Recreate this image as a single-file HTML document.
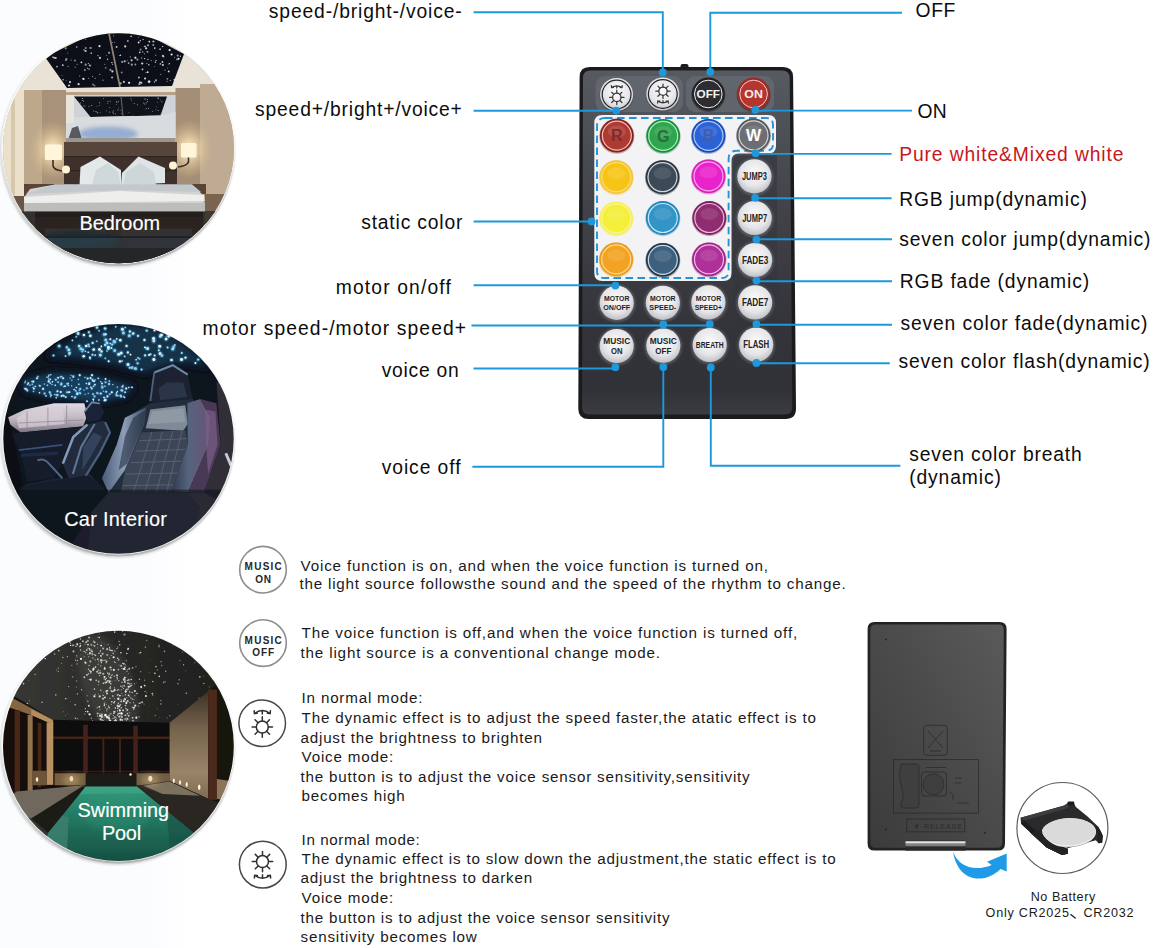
<!DOCTYPE html>
<html>
<head>
<meta charset="utf-8">
<title>Remote control guide</title>
<style>
html,body{margin:0;padding:0;background:#fff;}
body{width:1153px;height:948px;position:relative;overflow:hidden;font-family:"Liberation Sans",sans-serif;color:#111;}
#art{position:absolute;left:0;top:0;width:1153px;height:948px;}
.t{position:absolute;white-space:nowrap;line-height:1;color:#0c0c0c;}
.lab{font-size:18px;letter-spacing:1.1px;}
.red{color:#c8161d;}
.desc{font-size:15.5px;letter-spacing:0.7px;color:#1a1a1a;}
.cap{font-size:19px;color:#fff;letter-spacing:0.2px;-webkit-text-stroke:0.15px #fff;}
.sm{font-size:13px;letter-spacing:0.4px;color:#1a1a1a;}
svg text{font-family:"Liberation Sans",sans-serif;}
</style>
</head>
<body>
<svg id="art" width="1153" height="948" viewBox="0 0 1153 948">
<defs>
  <clipPath id="cB"><ellipse cx="118.45" cy="148.3" rx="115.5" ry="115"/></clipPath>
  <clipPath id="cC"><ellipse cx="118.5" cy="438.8" rx="115.2" ry="114.9"/></clipPath>
  <clipPath id="cP"><ellipse cx="118.4" cy="745.8" rx="115.4" ry="115.1"/></clipPath>
  <radialGradient id="glow" cx="0.5" cy="0.5" r="0.5">
    <stop offset="0" stop-color="#fff6dc" stop-opacity="1"/>
    <stop offset="0.35" stop-color="#f3dcae" stop-opacity="0.75"/>
    <stop offset="1" stop-color="#d8b888" stop-opacity="0"/>
  </radialGradient>
  <linearGradient id="tintG" x1="0" y1="0" x2="1" y2="0"><stop offset="0" stop-color="#fafcfe"/><stop offset="0.8" stop-color="#fbfcfe"/><stop offset="1" stop-color="#ffffff"/></linearGradient>
  <linearGradient id="ringG" x1="0" y1="0" x2="0" y2="1">
    <stop offset="0" stop-color="#ffffff"/>
    <stop offset="0.45" stop-color="#f3f3f3"/>
    <stop offset="0.8" stop-color="#cfcfcf"/>
    <stop offset="1" stop-color="#b4b4b4"/>
  </linearGradient>
  <filter id="b1" x="-20%" y="-20%" width="140%" height="140%"><feGaussianBlur stdDeviation="1"/></filter>
  <filter id="b2" x="-20%" y="-20%" width="140%" height="140%"><feGaussianBlur stdDeviation="2"/></filter>
  <filter id="b3" x="-30%" y="-30%" width="160%" height="160%"><feGaussianBlur stdDeviation="3.5"/></filter>
  <filter id="bz" x="-30%" y="-30%" width="160%" height="160%"><feGaussianBlur stdDeviation="16"/></filter>
  <filter id="bs" x="-5%" y="-5%" width="110%" height="110%"><feGaussianBlur stdDeviation="1.6"/></filter>
  <filter id="b05" x="-20%" y="-20%" width="140%" height="140%"><feGaussianBlur stdDeviation="0.5"/></filter>
</defs>
<rect x="0" y="0" width="190" height="948" fill="url(#tintG)"/>
<!-- ============ BEDROOM ============ -->
<g id="bedroom">
  <ellipse cx="117.4" cy="150.4" rx="117.2" ry="116.8" fill="#a3a3a3" opacity="0.5" filter="url(#b1)"/>
  <ellipse cx="118.3" cy="148.9" rx="117.4" ry="117" fill="url(#ringG)"/>
  <ellipse cx="118.45" cy="148.3" rx="116.2" ry="115.7" fill="#fbfbfb"/>
  <g clip-path="url(#cB)">
    <rect x="0" y="30" width="240" height="240" fill="#b7a288"/>
    <!-- ceiling -->
    <polygon points="0,30 240,30 240,80 200,88 176,92 66,92 20,96 0,100" fill="#e9e3d7"/>
    <polygon points="45,57 82,39 110,31 148,35 184,54 172,86 67,88" fill="#0c0f17"/>
    <line x1="108.5" y1="31" x2="120" y2="87" stroke="#8d8372" stroke-width="1.8"/>
    <!-- left curtain / wall -->
    <rect x="0" y="90" width="24" height="110" fill="#ebe1cb"/>
    <rect x="11" y="90" width="4" height="110" fill="#d6c8ac"/>
    <rect x="24" y="90" width="18" height="100" fill="#bda88c"/>
    <rect x="42" y="90" width="24" height="100" fill="#a8927a"/>
    <!-- right wall -->
    <rect x="175.5" y="88" width="25" height="100" fill="#a48e76"/>
    <rect x="200" y="84" width="40" height="110" fill="#bfab94"/>
    <!-- lamp glows -->
    <ellipse cx="53" cy="150" rx="24" ry="30" fill="url(#glow)"/>
    <ellipse cx="189" cy="149" rx="24" ry="30" fill="url(#glow)"/>
    <!-- mirror -->
    <rect x="66" y="95" width="109.5" height="47" fill="#cfd2d6"/>
    <polygon points="74,96.5 167,96.5 160.5,115.5 90.5,117" fill="#10131a"/>
    <line x1="121" y1="96.5" x2="123" y2="116" stroke="#6d6a64" stroke-width="1"/>
    <polygon points="66,117 90.5,117 160.5,115.5 175.5,112 175.5,142 66,142" fill="#d9dcdf"/>
    <ellipse cx="108" cy="134" rx="30" ry="7.5" fill="#7f9fcc" opacity="0.75" filter="url(#b2)"/>
    <polygon points="68,140 72,128 78,126 82,140" fill="#3b3a40" opacity="0.8"/>
    <rect x="66" y="138" width="109.5" height="4" fill="#9a958f"/>
    <rect x="66" y="95" width="8" height="28" fill="#e9e5dc"/>
    <!-- headboard -->
    <rect x="64" y="142" width="113" height="44" fill="#3f302b"/>
    <rect x="64" y="142" width="113" height="14" fill="#57443b"/>
    <rect x="64" y="156" width="113" height="1.2" fill="#2f2420"/>
    <rect x="64" y="170" width="113" height="1.2" fill="#2f2420"/>
    <!-- lamps -->
    <rect x="45" y="144.5" width="17" height="15.5" rx="1.5" fill="#fff5da"/>
    <rect x="181" y="143" width="15.5" height="14.5" rx="1.5" fill="#fff5da"/>
    <path d="M53 160 L53 166 Q54 170 62 171" stroke="#3a2c26" stroke-width="1.6" fill="none"/>
    <path d="M188.5 157.5 L188.5 162 Q187 166 178 167" stroke="#3a2c26" stroke-width="1.6" fill="none"/>
    <circle cx="66" cy="169.5" r="4" fill="#fff3d6" filter="url(#b05)"/>
    <circle cx="173" cy="165.5" r="4" fill="#fff3d6" filter="url(#b05)"/>
    <!-- night stands -->
    <rect x="24" y="184" width="42" height="12" fill="#5a4438"/>
    <rect x="176" y="184" width="30" height="10" fill="#5a4438"/>
    <!-- pillows -->
    <polygon points="79.5,185 80.5,167 100,156.5 121,170 121,185" fill="#e3e8e8"/>
    <polygon points="121,185 122,173 138.5,156.5 165,168 165,183" fill="#dfe5e6"/>
    <polygon points="92,185 96,170 108,163 118,172 121,185" fill="#cfd8da"/>
    <polygon points="123,185 126,172 140,163 154,172 156,185" fill="#cdd6d9"/>
    <!-- bed -->
    <polygon points="23,199 30,189 55,184.5 192,184.5 203,195 204.5,212 24.5,212" fill="#d2d2d0"/>
    <polygon points="26,194 55,184.5 192,184.5 201,192 120,190" fill="#c3c8cc"/>
    <polygon points="24,197 120,191 204,195 204.5,201 24.5,203" fill="#eeeeec"/>
    <rect x="24" y="203" width="181" height="9" fill="#bdbdbb"/>
    <!-- floor -->
    <rect x="0" y="212" width="240" height="60" fill="#5c5751"/>
    <rect x="35" y="212" width="168" height="16.5" fill="#49382f"/>
    <rect x="35" y="212" width="168" height="5" fill="#3a2c25"/>
    <rect x="106" y="228" width="15" height="20" fill="#5c483c"/>
    <rect x="36" y="228" width="9" height="8" fill="#4b3a31"/>
    <rect x="192" y="228" width="9" height="8" fill="#4b3a31"/>
    <rect x="0" y="236" width="240" height="40" fill="#30343a"/>
    <ellipse cx="78" cy="240" rx="40" ry="9" fill="#27414c" opacity="0.7" filter="url(#b2)"/>
    <rect x="0" y="248" width="240" height="30" fill="#242628"/>
    <rect x="0" y="196" width="24" height="50" fill="#6b5646"/>
    <rect x="205" y="194" width="40" height="30" fill="#7a6450"/>
    <g id="bstars"><circle cx="81.4" cy="62.3" r="0.9" fill="#e6eeff" opacity="0.96"/><circle cx="112.6" cy="64.2" r="0.5" fill="#e6eeff" opacity="0.95"/><circle cx="111.9" cy="62.6" r="0.7" fill="#e6eeff" opacity="1.00"/><circle cx="112.1" cy="77.5" r="1.1" fill="#e6eeff" opacity="0.70"/><circle cx="70.0" cy="82.1" r="1.1" fill="#e6eeff" opacity="0.87"/><circle cx="138.6" cy="37.3" r="0.5" fill="#e6eeff" opacity="0.65"/><circle cx="112.4" cy="71.4" r="1.1" fill="#e6eeff" opacity="0.86"/><circle cx="171.6" cy="54.5" r="1.1" fill="#e6eeff" opacity="0.98"/><circle cx="67.7" cy="53.0" r="0.5" fill="#e6eeff" opacity="0.57"/><circle cx="78.6" cy="84.2" r="1.1" fill="#e6eeff" opacity="0.89"/><circle cx="162.9" cy="55.9" r="1.1" fill="#e6eeff" opacity="0.79"/><circle cx="120.5" cy="55.2" r="0.7" fill="#e6eeff" opacity="0.95"/><circle cx="140.0" cy="82.3" r="0.9" fill="#e6eeff" opacity="1.00"/><circle cx="138.6" cy="42.5" r="0.9" fill="#e6eeff" opacity="0.98"/><circle cx="169.4" cy="63.6" r="0.7" fill="#e6eeff" opacity="0.82"/><circle cx="66.4" cy="59.1" r="1.1" fill="#e6eeff" opacity="0.54"/><circle cx="155.7" cy="55.3" r="0.7" fill="#e6eeff" opacity="0.51"/><circle cx="106.4" cy="55.6" r="0.5" fill="#e6eeff" opacity="0.52"/><circle cx="131.1" cy="36.3" r="0.9" fill="#e6eeff" opacity="0.78"/><circle cx="120.7" cy="83.3" r="1.1" fill="#e6eeff" opacity="0.65"/><circle cx="84.8" cy="69.9" r="0.9" fill="#e6eeff" opacity="0.66"/><circle cx="99.9" cy="57.9" r="1.1" fill="#e6eeff" opacity="0.82"/><circle cx="128.6" cy="63.1" r="0.9" fill="#e6eeff" opacity="0.72"/><circle cx="145.1" cy="46.4" r="0.9" fill="#e6eeff" opacity="0.72"/><circle cx="84.1" cy="49.8" r="0.9" fill="#e6eeff" opacity="0.51"/><circle cx="104.8" cy="64.2" r="0.5" fill="#e6eeff" opacity="0.69"/><circle cx="127.8" cy="40.9" r="0.9" fill="#e6eeff" opacity="0.73"/><circle cx="139.7" cy="52.3" r="0.9" fill="#e6eeff" opacity="0.87"/><circle cx="139.2" cy="84.1" r="0.9" fill="#e6eeff" opacity="0.81"/><circle cx="89.4" cy="65.3" r="0.7" fill="#e6eeff" opacity="0.68"/><circle cx="91.3" cy="53.2" r="0.9" fill="#e6eeff" opacity="0.65"/><circle cx="99.8" cy="74.2" r="0.5" fill="#e6eeff" opacity="0.99"/><circle cx="140.3" cy="40.8" r="0.7" fill="#e6eeff" opacity="0.83"/><circle cx="85.6" cy="51.0" r="1.1" fill="#e6eeff" opacity="0.82"/><circle cx="62.8" cy="65.2" r="0.9" fill="#e6eeff" opacity="0.84"/><circle cx="79.6" cy="76.1" r="0.7" fill="#e6eeff" opacity="0.54"/><circle cx="148.0" cy="45.3" r="1.1" fill="#e6eeff" opacity="0.64"/><circle cx="160.4" cy="63.9" r="0.9" fill="#e6eeff" opacity="0.67"/><circle cx="131.8" cy="64.7" r="1.1" fill="#e6eeff" opacity="0.65"/><circle cx="154.8" cy="48.1" r="0.9" fill="#e6eeff" opacity="0.82"/><circle cx="88.3" cy="63.6" r="0.5" fill="#e6eeff" opacity="0.96"/><circle cx="174.5" cy="79.8" r="1.1" fill="#e6eeff" opacity="0.78"/><circle cx="54.3" cy="57.7" r="0.9" fill="#e6eeff" opacity="0.77"/><circle cx="167.4" cy="78.8" r="0.9" fill="#e6eeff" opacity="0.56"/><circle cx="156.0" cy="60.6" r="0.7" fill="#e6eeff" opacity="0.95"/><circle cx="168.8" cy="64.0" r="0.5" fill="#e6eeff" opacity="0.74"/><circle cx="65.9" cy="60.2" r="0.7" fill="#e6eeff" opacity="0.83"/><circle cx="119.3" cy="55.5" r="0.5" fill="#e6eeff" opacity="0.67"/><circle cx="83.3" cy="78.8" r="1.1" fill="#e6eeff" opacity="0.91"/><circle cx="66.1" cy="80.2" r="0.5" fill="#e6eeff" opacity="0.59"/><circle cx="154.5" cy="81.9" r="0.7" fill="#e6eeff" opacity="0.91"/><circle cx="85.8" cy="48.0" r="1.1" fill="#e6eeff" opacity="0.53"/><circle cx="92.7" cy="76.6" r="0.5" fill="#e6eeff" opacity="0.89"/><circle cx="113.7" cy="35.7" r="0.5" fill="#e6eeff" opacity="0.76"/><circle cx="114.7" cy="42.2" r="0.5" fill="#e6eeff" opacity="0.68"/><circle cx="135.4" cy="64.5" r="0.9" fill="#e6eeff" opacity="0.63"/><circle cx="180.4" cy="56.3" r="0.7" fill="#e6eeff" opacity="0.78"/><circle cx="144.5" cy="53.8" r="0.5" fill="#e6eeff" opacity="0.78"/><circle cx="55.7" cy="58.0" r="1.1" fill="#e6eeff" opacity="0.82"/><circle cx="57.0" cy="66.6" r="0.9" fill="#e6eeff" opacity="0.71"/><circle cx="141.6" cy="58.0" r="0.7" fill="#e6eeff" opacity="0.61"/><circle cx="85.7" cy="64.7" r="1.1" fill="#e6eeff" opacity="0.61"/><circle cx="93.0" cy="84.4" r="0.9" fill="#e6eeff" opacity="0.56"/><circle cx="141.2" cy="82.8" r="1.1" fill="#e6eeff" opacity="0.83"/><circle cx="146.9" cy="63.3" r="0.5" fill="#e6eeff" opacity="0.91"/><circle cx="144.6" cy="58.6" r="0.7" fill="#e6eeff" opacity="0.89"/><circle cx="63.1" cy="79.8" r="0.7" fill="#e6eeff" opacity="0.91"/><circle cx="95.1" cy="78.3" r="0.5" fill="#e6eeff" opacity="0.92"/><circle cx="138.9" cy="77.5" r="0.9" fill="#e6eeff" opacity="0.79"/><circle cx="151.3" cy="60.6" r="0.7" fill="#e6eeff" opacity="0.55"/><circle cx="148.9" cy="82.6" r="0.5" fill="#e6eeff" opacity="0.78"/><circle cx="135.3" cy="57.6" r="1.1" fill="#e6eeff" opacity="0.63"/><circle cx="129.1" cy="82.8" r="1.1" fill="#e6eeff" opacity="0.98"/><circle cx="99.5" cy="46.2" r="1.1" fill="#e6eeff" opacity="0.92"/><circle cx="177.7" cy="55.6" r="1.1" fill="#e6eeff" opacity="0.58"/><circle cx="102.9" cy="80.2" r="0.7" fill="#e6eeff" opacity="0.55"/><circle cx="148.8" cy="81.7" r="1.1" fill="#e6eeff" opacity="0.79"/><circle cx="149.3" cy="41.6" r="0.9" fill="#e6eeff" opacity="0.97"/><circle cx="162.4" cy="62.0" r="0.9" fill="#e6eeff" opacity="0.84"/><circle cx="162.9" cy="65.0" r="0.9" fill="#e6eeff" opacity="0.94"/><circle cx="90.6" cy="47.9" r="1.1" fill="#e6eeff" opacity="0.60"/><circle cx="125.2" cy="46.4" r="1.1" fill="#e6eeff" opacity="0.89"/><circle cx="69.0" cy="85.5" r="1.1" fill="#e6eeff" opacity="0.85"/><circle cx="77.2" cy="64.2" r="0.5" fill="#e6eeff" opacity="0.74"/><circle cx="145.1" cy="78.5" r="1.1" fill="#e6eeff" opacity="0.89"/><circle cx="170.2" cy="80.3" r="0.5" fill="#e6eeff" opacity="0.98"/><circle cx="162.7" cy="46.6" r="0.7" fill="#e6eeff" opacity="0.89"/><circle cx="68.1" cy="66.3" r="0.5" fill="#e6eeff" opacity="0.95"/><circle cx="83.7" cy="79.0" r="0.9" fill="#e6eeff" opacity="0.59"/><circle cx="62.0" cy="75.5" r="0.5" fill="#e6eeff" opacity="0.55"/><circle cx="160.1" cy="49.2" r="0.9" fill="#e6eeff" opacity="0.73"/><circle cx="146.9" cy="51.5" r="0.5" fill="#e6eeff" opacity="0.67"/><circle cx="107.6" cy="59.3" r="0.7" fill="#e6eeff" opacity="0.82"/><circle cx="148.0" cy="59.5" r="0.7" fill="#e6eeff" opacity="0.77"/><circle cx="65.7" cy="48.3" r="1.1" fill="#e6eeff" opacity="0.56"/><circle cx="167.1" cy="81.3" r="0.5" fill="#e6eeff" opacity="0.76"/><circle cx="142.5" cy="69.3" r="0.9" fill="#e6eeff" opacity="0.88"/><circle cx="89.0" cy="69.1" r="0.9" fill="#e6eeff" opacity="0.55"/><circle cx="124.7" cy="61.3" r="1.1" fill="#e6eeff" opacity="0.75"/><circle cx="146.1" cy="72.6" r="0.7" fill="#e6eeff" opacity="0.59"/><circle cx="167.5" cy="68.1" r="0.5" fill="#e6eeff" opacity="0.55"/><circle cx="123.9" cy="81.9" r="1.1" fill="#e6eeff" opacity="0.78"/><circle cx="135.5" cy="57.8" r="0.9" fill="#e6eeff" opacity="0.89"/><circle cx="143.1" cy="39.6" r="0.7" fill="#e6eeff" opacity="0.88"/><circle cx="121.7" cy="72.5" r="0.9" fill="#e6eeff" opacity="0.55"/><circle cx="85.8" cy="36.8" r="0.7" fill="#e6eeff" opacity="0.52"/><circle cx="116.6" cy="46.9" r="0.9" fill="#e6eeff" opacity="0.94"/><circle cx="174.7" cy="57.3" r="0.5" fill="#e6eeff" opacity="0.68"/><circle cx="85.7" cy="39.2" r="0.5" fill="#e6eeff" opacity="0.78"/><circle cx="142.2" cy="63.5" r="1.1" fill="#e6eeff" opacity="0.91"/><circle cx="148.8" cy="64.8" r="0.7" fill="#e6eeff" opacity="0.93"/><circle cx="155.4" cy="62.3" r="0.7" fill="#e6eeff" opacity="0.78"/><circle cx="76.7" cy="47.0" r="0.9" fill="#e6eeff" opacity="0.52"/><circle cx="156.0" cy="80.3" r="1.1" fill="#e6eeff" opacity="0.66"/><circle cx="169.6" cy="50.1" r="1.1" fill="#e6eeff" opacity="0.99"/><circle cx="140.6" cy="49.6" r="1.1" fill="#e6eeff" opacity="0.52"/><circle cx="75.1" cy="67.0" r="0.5" fill="#e6eeff" opacity="0.89"/><circle cx="137.4" cy="59.6" r="1.1" fill="#e6eeff" opacity="0.60"/><circle cx="153.2" cy="45.0" r="1.1" fill="#e6eeff" opacity="0.56"/><circle cx="87.4" cy="68.2" r="0.7" fill="#e6eeff" opacity="0.57"/><circle cx="154.6" cy="66.4" r="0.5" fill="#e6eeff" opacity="0.51"/><circle cx="131.6" cy="60.3" r="1.1" fill="#e6eeff" opacity="0.77"/><circle cx="164.9" cy="70.1" r="0.7" fill="#e6eeff" opacity="0.54"/><circle cx="160.8" cy="74.3" r="0.5" fill="#e6eeff" opacity="0.86"/><circle cx="147.6" cy="51.9" r="0.7" fill="#e6eeff" opacity="0.97"/><circle cx="163.7" cy="56.7" r="0.7" fill="#e6eeff" opacity="0.74"/><circle cx="71.2" cy="59.9" r="0.5" fill="#e6eeff" opacity="0.77"/><circle cx="105.7" cy="67.8" r="0.9" fill="#e6eeff" opacity="0.51"/><circle cx="110.4" cy="69.9" r="1.1" fill="#e6eeff" opacity="0.59"/><circle cx="168.7" cy="71.4" r="0.9" fill="#e6eeff" opacity="0.92"/><circle cx="109.1" cy="52.8" r="1.1" fill="#e6eeff" opacity="0.61"/><circle cx="153.4" cy="41.5" r="1.1" fill="#e6eeff" opacity="0.77"/><circle cx="127.2" cy="60.2" r="0.5" fill="#e6eeff" opacity="0.57"/><circle cx="130.3" cy="57.0" r="0.7" fill="#e6eeff" opacity="0.53"/><circle cx="53.0" cy="57.3" r="1.1" fill="#e6eeff" opacity="0.52"/><circle cx="144.2" cy="46.4" r="0.5" fill="#e6eeff" opacity="0.70"/><circle cx="112.6" cy="42.6" r="0.5" fill="#e6eeff" opacity="0.67"/><circle cx="146.1" cy="48.3" r="1.1" fill="#e6eeff" opacity="0.89"/><circle cx="176.9" cy="59.4" r="0.9" fill="#e6eeff" opacity="0.52"/><circle cx="94.5" cy="85.6" r="0.9" fill="#e6eeff" opacity="0.55"/><circle cx="140.1" cy="84.4" r="0.5" fill="#e6eeff" opacity="0.55"/><circle cx="139.9" cy="35.0" r="0.5" fill="#e6eeff" opacity="0.74"/><circle cx="75.0" cy="60.5" r="0.9" fill="#e6eeff" opacity="0.60"/><circle cx="178.5" cy="58.8" r="1.1" fill="#e6eeff" opacity="0.96"/><circle cx="90.2" cy="65.6" r="1.1" fill="#e6eeff" opacity="0.54"/><circle cx="88.7" cy="78.2" r="0.5" fill="#e6eeff" opacity="0.75"/><circle cx="122.2" cy="61.9" r="1.1" fill="#e6eeff" opacity="0.59"/><circle cx="147.7" cy="72.2" r="0.9" fill="#e6eeff" opacity="0.96"/><circle cx="97.9" cy="55.6" r="0.7" fill="#e6eeff" opacity="0.72"/><circle cx="142.8" cy="51.9" r="0.7" fill="#e6eeff" opacity="0.75"/><circle cx="149.4" cy="81.6" r="1.1" fill="#e6eeff" opacity="0.97"/><circle cx="83.5" cy="100.9" r="0.5" fill="#dfe8ff" opacity="0.78"/><circle cx="147.5" cy="99.6" r="0.5" fill="#dfe8ff" opacity="0.75"/><circle cx="134.2" cy="103.4" r="0.5" fill="#dfe8ff" opacity="0.70"/><circle cx="145.7" cy="99.0" r="0.5" fill="#dfe8ff" opacity="0.71"/><circle cx="84.0" cy="105.9" r="0.5" fill="#dfe8ff" opacity="0.83"/><circle cx="133.0" cy="114.9" r="0.5" fill="#dfe8ff" opacity="0.40"/><circle cx="96.0" cy="111.4" r="0.5" fill="#dfe8ff" opacity="0.86"/><circle cx="107.8" cy="103.3" r="0.5" fill="#dfe8ff" opacity="0.63"/><circle cx="147.4" cy="101.6" r="0.5" fill="#dfe8ff" opacity="0.74"/><circle cx="160.2" cy="113.9" r="0.5" fill="#dfe8ff" opacity="0.47"/><circle cx="160.8" cy="99.9" r="0.5" fill="#dfe8ff" opacity="0.54"/><circle cx="97.1" cy="112.5" r="0.5" fill="#dfe8ff" opacity="0.66"/><circle cx="121.4" cy="113.4" r="0.5" fill="#dfe8ff" opacity="0.56"/><circle cx="152.4" cy="111.3" r="0.5" fill="#dfe8ff" opacity="0.63"/><circle cx="131.0" cy="98.7" r="0.5" fill="#dfe8ff" opacity="0.80"/><circle cx="129.0" cy="112.6" r="0.5" fill="#dfe8ff" opacity="0.45"/><circle cx="157.3" cy="102.3" r="0.5" fill="#dfe8ff" opacity="0.45"/><circle cx="112.7" cy="112.0" r="0.5" fill="#dfe8ff" opacity="0.74"/><circle cx="88.9" cy="106.3" r="0.5" fill="#dfe8ff" opacity="0.73"/><circle cx="137.4" cy="104.8" r="0.5" fill="#dfe8ff" opacity="0.73"/><circle cx="143.8" cy="103.0" r="0.5" fill="#dfe8ff" opacity="0.87"/><circle cx="116.4" cy="104.4" r="0.5" fill="#dfe8ff" opacity="0.46"/><circle cx="80.6" cy="103.1" r="0.5" fill="#dfe8ff" opacity="0.72"/><circle cx="108.0" cy="101.3" r="0.5" fill="#dfe8ff" opacity="0.78"/><circle cx="155.8" cy="109.7" r="0.5" fill="#dfe8ff" opacity="0.58"/><circle cx="144.3" cy="99.1" r="0.5" fill="#dfe8ff" opacity="0.66"/><circle cx="100.5" cy="112.2" r="0.5" fill="#dfe8ff" opacity="0.43"/><circle cx="99.4" cy="105.5" r="0.5" fill="#dfe8ff" opacity="0.53"/><circle cx="106.5" cy="110.7" r="0.5" fill="#dfe8ff" opacity="0.50"/><circle cx="97.9" cy="112.9" r="0.5" fill="#dfe8ff" opacity="0.77"/><circle cx="118.0" cy="110.1" r="0.5" fill="#dfe8ff" opacity="0.83"/><circle cx="110.2" cy="101.2" r="0.5" fill="#dfe8ff" opacity="0.71"/><circle cx="113.6" cy="113.2" r="0.5" fill="#dfe8ff" opacity="0.89"/><circle cx="118.5" cy="108.0" r="0.5" fill="#dfe8ff" opacity="0.42"/><circle cx="158.5" cy="98.3" r="0.5" fill="#dfe8ff" opacity="0.85"/><circle cx="82.3" cy="100.6" r="0.5" fill="#dfe8ff" opacity="0.65"/><circle cx="85.0" cy="106.0" r="0.5" fill="#dfe8ff" opacity="0.50"/><circle cx="97.0" cy="106.4" r="0.5" fill="#dfe8ff" opacity="0.42"/><circle cx="118.4" cy="101.3" r="0.5" fill="#dfe8ff" opacity="0.79"/><circle cx="91.7" cy="105.5" r="0.5" fill="#dfe8ff" opacity="0.85"/><circle cx="116.4" cy="101.5" r="0.5" fill="#dfe8ff" opacity="0.64"/><circle cx="146.4" cy="102.8" r="0.5" fill="#dfe8ff" opacity="0.59"/><circle cx="146.1" cy="108.8" r="0.5" fill="#dfe8ff" opacity="0.87"/><circle cx="115.4" cy="114.0" r="0.5" fill="#dfe8ff" opacity="0.64"/><circle cx="161.9" cy="101.8" r="0.5" fill="#dfe8ff" opacity="0.88"/><circle cx="103.6" cy="98.5" r="0.5" fill="#dfe8ff" opacity="0.59"/><circle cx="109.5" cy="112.1" r="0.5" fill="#dfe8ff" opacity="0.77"/><circle cx="156.3" cy="106.8" r="0.5" fill="#dfe8ff" opacity="0.41"/><circle cx="131.6" cy="100.5" r="0.5" fill="#dfe8ff" opacity="0.41"/><circle cx="157.9" cy="98.0" r="0.5" fill="#dfe8ff" opacity="0.89"/><circle cx="145.0" cy="104.0" r="0.5" fill="#dfe8ff" opacity="0.88"/><circle cx="109.8" cy="107.4" r="0.5" fill="#dfe8ff" opacity="0.65"/><circle cx="99.6" cy="102.7" r="0.5" fill="#dfe8ff" opacity="0.85"/><circle cx="148.5" cy="108.3" r="0.5" fill="#dfe8ff" opacity="0.81"/><circle cx="116.9" cy="102.4" r="0.5" fill="#dfe8ff" opacity="0.74"/><circle cx="120.9" cy="110.3" r="0.5" fill="#dfe8ff" opacity="0.57"/><circle cx="82.4" cy="98.6" r="0.5" fill="#dfe8ff" opacity="0.90"/><circle cx="93.6" cy="110.9" r="0.5" fill="#dfe8ff" opacity="0.68"/><circle cx="158.2" cy="110.6" r="0.5" fill="#dfe8ff" opacity="0.82"/><circle cx="113.8" cy="110.8" r="0.5" fill="#dfe8ff" opacity="0.57"/></g>
    <rect x="0" y="211" width="240" height="27" fill="#0b0d11" opacity="0.5"/>
  </g>
</g>
<!-- ============ CAR ============ -->
<g id="car">
  <defs>
    <linearGradient id="winG" x1="0" y1="0" x2="0" y2="1">
      <stop offset="0" stop-color="#e2dae2"/><stop offset="0.55" stop-color="#bdb4be"/><stop offset="1" stop-color="#7c7484"/>
    </linearGradient>
    <linearGradient id="bolG" x1="0" y1="0" x2="1" y2="0">
      <stop offset="0" stop-color="#4a5c78"/><stop offset="0.5" stop-color="#8c9eb6"/><stop offset="1" stop-color="#435268"/>
    </linearGradient>
    <linearGradient id="rbolG" x1="0" y1="0" x2="1" y2="0">
      <stop offset="0" stop-color="#30394e"/><stop offset="0.45" stop-color="#56647e"/><stop offset="1" stop-color="#6a5274"/>
    </linearGradient>
  </defs>
  <ellipse cx="117.4" cy="440.9" rx="116.9" ry="116.7" fill="#a3a3a3" opacity="0.5" filter="url(#b1)"/>
  <ellipse cx="118.3" cy="439.4" rx="117.1" ry="116.9" fill="url(#ringG)"/>
  <ellipse cx="118.5" cy="438.8" rx="115.9" ry="115.6" fill="#fbfbfb"/>
  <g clip-path="url(#cC)">
   <g transform="translate(0,320) scale(0.20816)" filter="url(#bs)">
    <rect x="0" y="0" width="1160" height="1160" fill="#0d121d"/>
    <!-- headliner glow -->
    <path d="M230 175 Q420 20 640 20 Q860 40 1000 230 Q860 180 700 255 Q470 180 230 175Z" fill="#173a56" opacity="0.75" filter="url(#bz)"/>
    <polygon points="105,290 250,255 450,265 640,320 600,370 470,395 240,370 120,340" fill="#1d4a6c" opacity="0.8" filter="url(#bz)"/>
    <g><circle cx="476" cy="52" r="7.6" fill="#4fb4e6" opacity="0.28"/><circle cx="476" cy="52" r="4" fill="#a8e6ff"/><circle cx="680" cy="238" r="9.1" fill="#4fb4e6" opacity="0.28"/><circle cx="680" cy="238" r="4.8" fill="#a8e6ff"/><circle cx="410" cy="150" r="7.6" fill="#4fb4e6" opacity="0.28"/><circle cx="410" cy="150" r="4" fill="#a8e6ff"/><circle cx="395" cy="151" r="9.1" fill="#4fb4e6" opacity="0.28"/><circle cx="395" cy="151" r="4.8" fill="#8fd6f8"/><circle cx="551" cy="147" r="13.7" fill="#4fb4e6" opacity="0.28"/><circle cx="551" cy="147" r="7.2" fill="#8fd6f8"/><circle cx="663" cy="182" r="7.6" fill="#4fb4e6" opacity="0.28"/><circle cx="663" cy="182" r="4" fill="#d2f5ff"/><circle cx="514" cy="149" r="7.6" fill="#4fb4e6" opacity="0.28"/><circle cx="514" cy="149" r="4" fill="#a8e6ff"/><circle cx="709" cy="137" r="13.7" fill="#4fb4e6" opacity="0.28"/><circle cx="709" cy="137" r="7.2" fill="#f0fcff"/><circle cx="834" cy="129" r="12.2" fill="#4fb4e6" opacity="0.28"/><circle cx="834" cy="129" r="6.4" fill="#8fd6f8"/><circle cx="772" cy="75" r="13.7" fill="#4fb4e6" opacity="0.28"/><circle cx="772" cy="75" r="7.2" fill="#8fd6f8"/><circle cx="635" cy="229" r="12.2" fill="#4fb4e6" opacity="0.28"/><circle cx="635" cy="229" r="6.4" fill="#8fd6f8"/><circle cx="624" cy="55" r="10.6" fill="#4fb4e6" opacity="0.28"/><circle cx="624" cy="55" r="5.6" fill="#d2f5ff"/><circle cx="661" cy="208" r="10.6" fill="#4fb4e6" opacity="0.28"/><circle cx="661" cy="208" r="5.6" fill="#8fd6f8"/><circle cx="769" cy="161" r="13.7" fill="#4fb4e6" opacity="0.28"/><circle cx="769" cy="161" r="7.2" fill="#f0fcff"/><circle cx="433" cy="186" r="7.6" fill="#4fb4e6" opacity="0.28"/><circle cx="433" cy="186" r="4" fill="#a8e6ff"/><circle cx="798" cy="91" r="13.7" fill="#4fb4e6" opacity="0.28"/><circle cx="798" cy="91" r="7.2" fill="#f0fcff"/><circle cx="445" cy="110" r="10.6" fill="#4fb4e6" opacity="0.28"/><circle cx="445" cy="110" r="5.6" fill="#a8e6ff"/><circle cx="703" cy="136" r="9.1" fill="#4fb4e6" opacity="0.28"/><circle cx="703" cy="136" r="4.8" fill="#8fd6f8"/><circle cx="284" cy="125" r="13.7" fill="#4fb4e6" opacity="0.28"/><circle cx="284" cy="125" r="7.2" fill="#8fd6f8"/><circle cx="548" cy="103" r="12.2" fill="#4fb4e6" opacity="0.28"/><circle cx="548" cy="103" r="6.4" fill="#d2f5ff"/><circle cx="403" cy="72" r="12.2" fill="#4fb4e6" opacity="0.28"/><circle cx="403" cy="72" r="6.4" fill="#d2f5ff"/><circle cx="551" cy="105" r="13.7" fill="#4fb4e6" opacity="0.28"/><circle cx="551" cy="105" r="7.2" fill="#8fd6f8"/><circle cx="627" cy="166" r="7.6" fill="#4fb4e6" opacity="0.28"/><circle cx="627" cy="166" r="4" fill="#f0fcff"/><circle cx="530" cy="113" r="7.6" fill="#4fb4e6" opacity="0.28"/><circle cx="530" cy="113" r="4" fill="#f0fcff"/><circle cx="348" cy="98" r="7.6" fill="#4fb4e6" opacity="0.28"/><circle cx="348" cy="98" r="4" fill="#a8e6ff"/><circle cx="705" cy="51" r="10.6" fill="#4fb4e6" opacity="0.28"/><circle cx="705" cy="51" r="5.6" fill="#8fd6f8"/><circle cx="696" cy="131" r="7.6" fill="#4fb4e6" opacity="0.28"/><circle cx="696" cy="131" r="4" fill="#f0fcff"/><circle cx="602" cy="36" r="7.6" fill="#4fb4e6" opacity="0.28"/><circle cx="602" cy="36" r="4" fill="#8fd6f8"/><circle cx="805" cy="132" r="9.1" fill="#4fb4e6" opacity="0.28"/><circle cx="805" cy="132" r="4.8" fill="#a8e6ff"/><circle cx="506" cy="184" r="7.6" fill="#4fb4e6" opacity="0.28"/><circle cx="506" cy="184" r="4" fill="#8fd6f8"/><circle cx="770" cy="79" r="10.6" fill="#4fb4e6" opacity="0.28"/><circle cx="770" cy="79" r="5.6" fill="#d2f5ff"/><circle cx="501" cy="70" r="13.7" fill="#4fb4e6" opacity="0.28"/><circle cx="501" cy="70" r="7.2" fill="#8fd6f8"/><circle cx="723" cy="165" r="9.1" fill="#4fb4e6" opacity="0.28"/><circle cx="723" cy="165" r="4.8" fill="#d2f5ff"/><circle cx="399" cy="142" r="10.6" fill="#4fb4e6" opacity="0.28"/><circle cx="399" cy="142" r="5.6" fill="#a8e6ff"/><circle cx="593" cy="62" r="13.7" fill="#4fb4e6" opacity="0.28"/><circle cx="593" cy="62" r="7.2" fill="#8fd6f8"/><circle cx="508" cy="69" r="9.1" fill="#4fb4e6" opacity="0.28"/><circle cx="508" cy="69" r="4.8" fill="#f0fcff"/><circle cx="375" cy="65" r="13.7" fill="#4fb4e6" opacity="0.28"/><circle cx="375" cy="65" r="7.2" fill="#a8e6ff"/><circle cx="599" cy="175" r="7.6" fill="#4fb4e6" opacity="0.28"/><circle cx="599" cy="175" r="4" fill="#a8e6ff"/><circle cx="939" cy="207" r="9.1" fill="#4fb4e6" opacity="0.28"/><circle cx="939" cy="207" r="4.8" fill="#f0fcff"/><circle cx="586" cy="197" r="7.6" fill="#4fb4e6" opacity="0.28"/><circle cx="586" cy="197" r="4" fill="#d2f5ff"/><circle cx="739" cy="101" r="13.7" fill="#4fb4e6" opacity="0.28"/><circle cx="739" cy="101" r="7.2" fill="#d2f5ff"/><circle cx="388" cy="138" r="13.7" fill="#4fb4e6" opacity="0.28"/><circle cx="388" cy="138" r="7.2" fill="#8fd6f8"/><circle cx="425" cy="118" r="9.1" fill="#4fb4e6" opacity="0.28"/><circle cx="425" cy="118" r="4.8" fill="#a8e6ff"/><circle cx="582" cy="158" r="13.7" fill="#4fb4e6" opacity="0.28"/><circle cx="582" cy="158" r="7.2" fill="#f0fcff"/><circle cx="623" cy="229" r="9.1" fill="#4fb4e6" opacity="0.28"/><circle cx="623" cy="229" r="4.8" fill="#a8e6ff"/><circle cx="332" cy="167" r="7.6" fill="#4fb4e6" opacity="0.28"/><circle cx="332" cy="167" r="4" fill="#a8e6ff"/><circle cx="478" cy="142" r="13.7" fill="#4fb4e6" opacity="0.28"/><circle cx="478" cy="142" r="7.2" fill="#f0fcff"/><circle cx="663" cy="76" r="10.6" fill="#4fb4e6" opacity="0.28"/><circle cx="663" cy="76" r="5.6" fill="#a8e6ff"/><circle cx="830" cy="139" r="13.7" fill="#4fb4e6" opacity="0.28"/><circle cx="830" cy="139" r="7.2" fill="#a8e6ff"/><circle cx="570" cy="165" r="13.7" fill="#4fb4e6" opacity="0.28"/><circle cx="570" cy="165" r="7.2" fill="#d2f5ff"/><circle cx="767" cy="126" r="13.7" fill="#4fb4e6" opacity="0.28"/><circle cx="767" cy="126" r="7.2" fill="#f0fcff"/><circle cx="621" cy="76" r="13.7" fill="#4fb4e6" opacity="0.28"/><circle cx="621" cy="76" r="7.2" fill="#8fd6f8"/><circle cx="380" cy="125" r="12.2" fill="#4fb4e6" opacity="0.28"/><circle cx="380" cy="125" r="6.4" fill="#a8e6ff"/><circle cx="530" cy="92" r="9.1" fill="#4fb4e6" opacity="0.28"/><circle cx="530" cy="92" r="4.8" fill="#f0fcff"/><circle cx="742" cy="50" r="9.1" fill="#4fb4e6" opacity="0.28"/><circle cx="742" cy="50" r="4.8" fill="#f0fcff"/><circle cx="535" cy="134" r="9.1" fill="#4fb4e6" opacity="0.28"/><circle cx="535" cy="134" r="4.8" fill="#d2f5ff"/><circle cx="539" cy="118" r="10.6" fill="#4fb4e6" opacity="0.28"/><circle cx="539" cy="118" r="5.6" fill="#8fd6f8"/><circle cx="487" cy="127" r="7.6" fill="#4fb4e6" opacity="0.28"/><circle cx="487" cy="127" r="4" fill="#f0fcff"/><circle cx="482" cy="168" r="13.7" fill="#4fb4e6" opacity="0.28"/><circle cx="482" cy="168" r="7.2" fill="#a8e6ff"/><circle cx="891" cy="181" r="10.6" fill="#4fb4e6" opacity="0.28"/><circle cx="891" cy="181" r="5.6" fill="#f0fcff"/><circle cx="671" cy="187" r="7.6" fill="#4fb4e6" opacity="0.28"/><circle cx="671" cy="187" r="4" fill="#8fd6f8"/><circle cx="556" cy="33" r="7.6" fill="#4fb4e6" opacity="0.28"/><circle cx="556" cy="33" r="4" fill="#a8e6ff"/><circle cx="488" cy="151" r="10.6" fill="#4fb4e6" opacity="0.28"/><circle cx="488" cy="151" r="5.6" fill="#d2f5ff"/><circle cx="427" cy="59" r="10.6" fill="#4fb4e6" opacity="0.28"/><circle cx="427" cy="59" r="5.6" fill="#8fd6f8"/><circle cx="640" cy="65" r="12.2" fill="#4fb4e6" opacity="0.28"/><circle cx="640" cy="65" r="6.4" fill="#d2f5ff"/><circle cx="414" cy="125" r="12.2" fill="#4fb4e6" opacity="0.28"/><circle cx="414" cy="125" r="6.4" fill="#f0fcff"/><circle cx="651" cy="233" r="13.7" fill="#4fb4e6" opacity="0.28"/><circle cx="651" cy="233" r="7.2" fill="#8fd6f8"/><circle cx="778" cy="171" r="12.2" fill="#4fb4e6" opacity="0.28"/><circle cx="778" cy="171" r="6.4" fill="#8fd6f8"/><circle cx="521" cy="139" r="10.6" fill="#4fb4e6" opacity="0.28"/><circle cx="521" cy="139" r="5.6" fill="#d2f5ff"/><circle cx="366" cy="81" r="7.6" fill="#4fb4e6" opacity="0.28"/><circle cx="366" cy="81" r="4" fill="#8fd6f8"/><circle cx="508" cy="96" r="13.7" fill="#4fb4e6" opacity="0.28"/><circle cx="508" cy="96" r="7.2" fill="#8fd6f8"/><circle cx="465" cy="102" r="7.6" fill="#4fb4e6" opacity="0.28"/><circle cx="465" cy="102" r="4" fill="#8fd6f8"/><circle cx="521" cy="131" r="13.7" fill="#4fb4e6" opacity="0.28"/><circle cx="521" cy="131" r="7.2" fill="#d2f5ff"/><circle cx="334" cy="159" r="12.2" fill="#4fb4e6" opacity="0.28"/><circle cx="334" cy="159" r="6.4" fill="#a8e6ff"/><circle cx="457" cy="169" r="7.6" fill="#4fb4e6" opacity="0.28"/><circle cx="457" cy="169" r="4" fill="#d2f5ff"/><circle cx="739" cy="190" r="13.7" fill="#4fb4e6" opacity="0.28"/><circle cx="739" cy="190" r="7.2" fill="#f0fcff"/><circle cx="824" cy="192" r="12.2" fill="#4fb4e6" opacity="0.28"/><circle cx="824" cy="192" r="6.4" fill="#d2f5ff"/><circle cx="444" cy="167" r="9.1" fill="#4fb4e6" opacity="0.28"/><circle cx="444" cy="167" r="4.8" fill="#a8e6ff"/><circle cx="872" cy="190" r="13.7" fill="#4fb4e6" opacity="0.28"/><circle cx="872" cy="190" r="7.2" fill="#f0fcff"/><circle cx="330" cy="143" r="13.7" fill="#4fb4e6" opacity="0.28"/><circle cx="330" cy="143" r="7.2" fill="#a8e6ff"/><circle cx="873" cy="158" r="9.1" fill="#4fb4e6" opacity="0.28"/><circle cx="873" cy="158" r="4.8" fill="#a8e6ff"/><circle cx="505" cy="41" r="12.2" fill="#4fb4e6" opacity="0.28"/><circle cx="505" cy="41" r="6.4" fill="#a8e6ff"/><circle cx="716" cy="168" r="9.1" fill="#4fb4e6" opacity="0.28"/><circle cx="716" cy="168" r="4.8" fill="#f0fcff"/><circle cx="428" cy="127" r="7.6" fill="#4fb4e6" opacity="0.28"/><circle cx="428" cy="127" r="4" fill="#a8e6ff"/><circle cx="802" cy="77" r="7.6" fill="#4fb4e6" opacity="0.28"/><circle cx="802" cy="77" r="4" fill="#8fd6f8"/><circle cx="402" cy="174" r="12.2" fill="#4fb4e6" opacity="0.28"/><circle cx="402" cy="174" r="6.4" fill="#f0fcff"/><circle cx="257" cy="170" r="9.1" fill="#4fb4e6" opacity="0.28"/><circle cx="257" cy="170" r="4.8" fill="#a8e6ff"/><circle cx="694" cy="96" r="10.6" fill="#4fb4e6" opacity="0.28"/><circle cx="694" cy="96" r="5.6" fill="#d2f5ff"/><circle cx="432" cy="180" r="9.1" fill="#4fb4e6" opacity="0.28"/><circle cx="432" cy="180" r="4.8" fill="#f0fcff"/><circle cx="450" cy="142" r="12.2" fill="#4fb4e6" opacity="0.28"/><circle cx="450" cy="142" r="6.4" fill="#f0fcff"/><circle cx="588" cy="44" r="13.7" fill="#4fb4e6" opacity="0.28"/><circle cx="588" cy="44" r="7.2" fill="#d2f5ff"/><circle cx="466" cy="36" r="12.2" fill="#4fb4e6" opacity="0.28"/><circle cx="466" cy="36" r="6.4" fill="#a8e6ff"/><circle cx="811" cy="79" r="10.6" fill="#4fb4e6" opacity="0.28"/><circle cx="811" cy="79" r="5.6" fill="#d2f5ff"/><circle cx="697" cy="170" r="10.6" fill="#4fb4e6" opacity="0.28"/><circle cx="697" cy="170" r="5.6" fill="#a8e6ff"/><circle cx="776" cy="72" r="12.2" fill="#4fb4e6" opacity="0.28"/><circle cx="776" cy="72" r="6.4" fill="#f0fcff"/><circle cx="608" cy="125" r="10.6" fill="#4fb4e6" opacity="0.28"/><circle cx="608" cy="125" r="5.6" fill="#d2f5ff"/><circle cx="549" cy="107" r="7.6" fill="#4fb4e6" opacity="0.28"/><circle cx="549" cy="107" r="4" fill="#8fd6f8"/><circle cx="952" cy="190" r="10.6" fill="#4fb4e6" opacity="0.28"/><circle cx="952" cy="190" r="5.6" fill="#8fd6f8"/><circle cx="514" cy="111" r="13.7" fill="#4fb4e6" opacity="0.28"/><circle cx="514" cy="111" r="7.2" fill="#a8e6ff"/><circle cx="505" cy="120" r="10.6" fill="#4fb4e6" opacity="0.28"/><circle cx="505" cy="120" r="5.6" fill="#a8e6ff"/><circle cx="743" cy="171" r="9.1" fill="#4fb4e6" opacity="0.28"/><circle cx="743" cy="171" r="4.8" fill="#d2f5ff"/><circle cx="840" cy="120" r="7.6" fill="#4fb4e6" opacity="0.28"/><circle cx="840" cy="120" r="4" fill="#f0fcff"/><circle cx="654" cy="191" r="7.6" fill="#4fb4e6" opacity="0.28"/><circle cx="654" cy="191" r="4" fill="#f0fcff"/><circle cx="576" cy="199" r="10.6" fill="#4fb4e6" opacity="0.28"/><circle cx="576" cy="199" r="5.6" fill="#f0fcff"/><circle cx="321" cy="131" r="10.6" fill="#4fb4e6" opacity="0.28"/><circle cx="321" cy="131" r="5.6" fill="#8fd6f8"/><circle cx="738" cy="89" r="13.7" fill="#4fb4e6" opacity="0.28"/><circle cx="738" cy="89" r="7.2" fill="#f0fcff"/><circle cx="315" cy="173" r="7.6" fill="#4fb4e6" opacity="0.28"/><circle cx="315" cy="173" r="4" fill="#d2f5ff"/><circle cx="615" cy="214" r="13.7" fill="#4fb4e6" opacity="0.28"/><circle cx="615" cy="214" r="7.2" fill="#d2f5ff"/><circle cx="578" cy="97" r="12.2" fill="#4fb4e6" opacity="0.28"/><circle cx="578" cy="97" r="6.4" fill="#f0fcff"/><circle cx="424" cy="155" r="7.6" fill="#4fb4e6" opacity="0.28"/><circle cx="424" cy="155" r="4" fill="#f0fcff"/><circle cx="522" cy="198" r="9.1" fill="#4fb4e6" opacity="0.28"/><circle cx="522" cy="198" r="4.8" fill="#f0fcff"/><circle cx="614" cy="156" r="10.6" fill="#4fb4e6" opacity="0.28"/><circle cx="614" cy="156" r="5.6" fill="#d2f5ff"/><circle cx="763" cy="145" r="9.1" fill="#4fb4e6" opacity="0.28"/><circle cx="763" cy="145" r="4.8" fill="#a8e6ff"/><circle cx="434" cy="76" r="12.2" fill="#4fb4e6" opacity="0.28"/><circle cx="434" cy="76" r="6.4" fill="#f0fcff"/><circle cx="561" cy="91" r="7.6" fill="#4fb4e6" opacity="0.28"/><circle cx="561" cy="91" r="4" fill="#d2f5ff"/><circle cx="588" cy="321" r="9.0" fill="#4fa8e0" opacity="0.25"/><circle cx="588" cy="321" r="5" fill="#9fdcff"/><circle cx="606" cy="329" r="9.0" fill="#4fa8e0" opacity="0.25"/><circle cx="606" cy="329" r="5" fill="#e8fbff"/><circle cx="235" cy="266" r="6.5" fill="#4fa8e0" opacity="0.25"/><circle cx="235" cy="266" r="3.6" fill="#c9f1ff"/><circle cx="385" cy="352" r="9.0" fill="#4fa8e0" opacity="0.25"/><circle cx="385" cy="352" r="5" fill="#9fdcff"/><circle cx="601" cy="347" r="7.6" fill="#4fa8e0" opacity="0.25"/><circle cx="601" cy="347" r="4.2" fill="#c9f1ff"/><circle cx="441" cy="329" r="9.0" fill="#4fa8e0" opacity="0.25"/><circle cx="441" cy="329" r="5" fill="#9fdcff"/><circle cx="154" cy="295" r="6.5" fill="#4fa8e0" opacity="0.25"/><circle cx="154" cy="295" r="3.6" fill="#e8fbff"/><circle cx="242" cy="369" r="5.4" fill="#4fa8e0" opacity="0.25"/><circle cx="242" cy="369" r="3" fill="#9fdcff"/><circle cx="252" cy="297" r="6.5" fill="#4fa8e0" opacity="0.25"/><circle cx="252" cy="297" r="3.6" fill="#e8fbff"/><circle cx="387" cy="332" r="5.4" fill="#4fa8e0" opacity="0.25"/><circle cx="387" cy="332" r="3" fill="#e8fbff"/><circle cx="484" cy="296" r="5.4" fill="#4fa8e0" opacity="0.25"/><circle cx="484" cy="296" r="3" fill="#c9f1ff"/><circle cx="372" cy="351" r="9.0" fill="#4fa8e0" opacity="0.25"/><circle cx="372" cy="351" r="5" fill="#9fdcff"/><circle cx="240" cy="350" r="7.6" fill="#4fa8e0" opacity="0.25"/><circle cx="240" cy="350" r="4.2" fill="#c9f1ff"/><circle cx="369" cy="354" r="9.0" fill="#4fa8e0" opacity="0.25"/><circle cx="369" cy="354" r="5" fill="#7fc8f2"/><circle cx="472" cy="280" r="7.6" fill="#4fa8e0" opacity="0.25"/><circle cx="472" cy="280" r="4.2" fill="#9fdcff"/><circle cx="270" cy="373" r="6.5" fill="#4fa8e0" opacity="0.25"/><circle cx="270" cy="373" r="3.6" fill="#e8fbff"/><circle cx="221" cy="364" r="7.6" fill="#4fa8e0" opacity="0.25"/><circle cx="221" cy="364" r="4.2" fill="#9fdcff"/><circle cx="619" cy="324" r="6.5" fill="#4fa8e0" opacity="0.25"/><circle cx="619" cy="324" r="3.6" fill="#c9f1ff"/><circle cx="131" cy="339" r="9.0" fill="#4fa8e0" opacity="0.25"/><circle cx="131" cy="339" r="5" fill="#9fdcff"/><circle cx="133" cy="309" r="7.6" fill="#4fa8e0" opacity="0.25"/><circle cx="133" cy="309" r="4.2" fill="#9fdcff"/><circle cx="279" cy="278" r="9.0" fill="#4fa8e0" opacity="0.25"/><circle cx="279" cy="278" r="5" fill="#9fdcff"/><circle cx="270" cy="359" r="7.6" fill="#4fa8e0" opacity="0.25"/><circle cx="270" cy="359" r="4.2" fill="#7fc8f2"/><circle cx="341" cy="266" r="5.4" fill="#4fa8e0" opacity="0.25"/><circle cx="341" cy="266" r="3" fill="#7fc8f2"/><circle cx="144" cy="313" r="5.4" fill="#4fa8e0" opacity="0.25"/><circle cx="144" cy="313" r="3" fill="#c9f1ff"/><circle cx="307" cy="365" r="7.6" fill="#4fa8e0" opacity="0.25"/><circle cx="307" cy="365" r="4.2" fill="#e8fbff"/><circle cx="207" cy="331" r="9.0" fill="#4fa8e0" opacity="0.25"/><circle cx="207" cy="331" r="5" fill="#c9f1ff"/><circle cx="276" cy="361" r="9.0" fill="#4fa8e0" opacity="0.25"/><circle cx="276" cy="361" r="5" fill="#9fdcff"/><circle cx="444" cy="287" r="9.0" fill="#4fa8e0" opacity="0.25"/><circle cx="444" cy="287" r="5" fill="#9fdcff"/><circle cx="305" cy="320" r="5.4" fill="#4fa8e0" opacity="0.25"/><circle cx="305" cy="320" r="3" fill="#7fc8f2"/><circle cx="430" cy="304" r="7.6" fill="#4fa8e0" opacity="0.25"/><circle cx="430" cy="304" r="4.2" fill="#9fdcff"/><circle cx="243" cy="357" r="7.6" fill="#4fa8e0" opacity="0.25"/><circle cx="243" cy="357" r="4.2" fill="#7fc8f2"/><circle cx="262" cy="358" r="5.4" fill="#4fa8e0" opacity="0.25"/><circle cx="262" cy="358" r="3" fill="#9fdcff"/><circle cx="490" cy="320" r="9.0" fill="#4fa8e0" opacity="0.25"/><circle cx="490" cy="320" r="5" fill="#7fc8f2"/><circle cx="598" cy="372" r="6.5" fill="#4fa8e0" opacity="0.25"/><circle cx="598" cy="372" r="3.6" fill="#e8fbff"/><circle cx="502" cy="373" r="6.5" fill="#4fa8e0" opacity="0.25"/><circle cx="502" cy="373" r="3.6" fill="#c9f1ff"/><circle cx="279" cy="298" r="7.6" fill="#4fa8e0" opacity="0.25"/><circle cx="279" cy="298" r="4.2" fill="#9fdcff"/><circle cx="379" cy="309" r="6.5" fill="#4fa8e0" opacity="0.25"/><circle cx="379" cy="309" r="3.6" fill="#c9f1ff"/><circle cx="322" cy="347" r="9.0" fill="#4fa8e0" opacity="0.25"/><circle cx="322" cy="347" r="5" fill="#7fc8f2"/><circle cx="188" cy="314" r="5.4" fill="#4fa8e0" opacity="0.25"/><circle cx="188" cy="314" r="3" fill="#9fdcff"/><circle cx="244" cy="263" r="5.4" fill="#4fa8e0" opacity="0.25"/><circle cx="244" cy="263" r="3" fill="#e8fbff"/><circle cx="372" cy="356" r="9.0" fill="#4fa8e0" opacity="0.25"/><circle cx="372" cy="356" r="5" fill="#c9f1ff"/><circle cx="228" cy="313" r="6.5" fill="#4fa8e0" opacity="0.25"/><circle cx="228" cy="313" r="3.6" fill="#9fdcff"/><circle cx="525" cy="294" r="7.6" fill="#4fa8e0" opacity="0.25"/><circle cx="525" cy="294" r="4.2" fill="#7fc8f2"/><circle cx="303" cy="361" r="6.5" fill="#4fa8e0" opacity="0.25"/><circle cx="303" cy="361" r="3.6" fill="#e8fbff"/><circle cx="235" cy="287" r="6.5" fill="#4fa8e0" opacity="0.25"/><circle cx="235" cy="287" r="3.6" fill="#7fc8f2"/><circle cx="582" cy="337" r="7.6" fill="#4fa8e0" opacity="0.25"/><circle cx="582" cy="337" r="4.2" fill="#9fdcff"/><circle cx="376" cy="285" r="5.4" fill="#4fa8e0" opacity="0.25"/><circle cx="376" cy="285" r="3" fill="#e8fbff"/><circle cx="359" cy="373" r="9.0" fill="#4fa8e0" opacity="0.25"/><circle cx="359" cy="373" r="5" fill="#7fc8f2"/><circle cx="122" cy="294" r="5.4" fill="#4fa8e0" opacity="0.25"/><circle cx="122" cy="294" r="3" fill="#9fdcff"/><circle cx="418" cy="390" r="7.6" fill="#4fa8e0" opacity="0.25"/><circle cx="418" cy="390" r="4.2" fill="#c9f1ff"/><circle cx="345" cy="289" r="5.4" fill="#4fa8e0" opacity="0.25"/><circle cx="345" cy="289" r="3" fill="#9fdcff"/><circle cx="447" cy="356" r="7.6" fill="#4fa8e0" opacity="0.25"/><circle cx="447" cy="356" r="4.2" fill="#c9f1ff"/><circle cx="120" cy="301" r="5.4" fill="#4fa8e0" opacity="0.25"/><circle cx="120" cy="301" r="3" fill="#c9f1ff"/><circle cx="499" cy="387" r="5.4" fill="#4fa8e0" opacity="0.25"/><circle cx="499" cy="387" r="3" fill="#7fc8f2"/><circle cx="323" cy="306" r="7.6" fill="#4fa8e0" opacity="0.25"/><circle cx="323" cy="306" r="4.2" fill="#9fdcff"/><circle cx="155" cy="309" r="6.5" fill="#4fa8e0" opacity="0.25"/><circle cx="155" cy="309" r="3.6" fill="#9fdcff"/><circle cx="456" cy="310" r="7.6" fill="#4fa8e0" opacity="0.25"/><circle cx="456" cy="310" r="4.2" fill="#e8fbff"/><circle cx="506" cy="383" r="9.0" fill="#4fa8e0" opacity="0.25"/><circle cx="506" cy="383" r="5" fill="#e8fbff"/><circle cx="537" cy="347" r="9.0" fill="#4fa8e0" opacity="0.25"/><circle cx="537" cy="347" r="5" fill="#e8fbff"/><circle cx="591" cy="314" r="5.4" fill="#4fa8e0" opacity="0.25"/><circle cx="591" cy="314" r="3" fill="#e8fbff"/><circle cx="415" cy="305" r="6.5" fill="#4fa8e0" opacity="0.25"/><circle cx="415" cy="305" r="3.6" fill="#c9f1ff"/><circle cx="449" cy="386" r="5.4" fill="#4fa8e0" opacity="0.25"/><circle cx="449" cy="386" r="3" fill="#7fc8f2"/><circle cx="290" cy="274" r="6.5" fill="#4fa8e0" opacity="0.25"/><circle cx="290" cy="274" r="3.6" fill="#9fdcff"/><circle cx="159" cy="324" r="6.5" fill="#4fa8e0" opacity="0.25"/><circle cx="159" cy="324" r="3.6" fill="#7fc8f2"/><circle cx="632" cy="322" r="5.4" fill="#4fa8e0" opacity="0.25"/><circle cx="632" cy="322" r="3" fill="#e8fbff"/><circle cx="475" cy="384" r="6.5" fill="#4fa8e0" opacity="0.25"/><circle cx="475" cy="384" r="3.6" fill="#e8fbff"/><circle cx="435" cy="279" r="9.0" fill="#4fa8e0" opacity="0.25"/><circle cx="435" cy="279" r="5" fill="#c9f1ff"/><circle cx="296" cy="272" r="6.5" fill="#4fa8e0" opacity="0.25"/><circle cx="296" cy="272" r="3.6" fill="#9fdcff"/><circle cx="466" cy="350" r="7.6" fill="#4fa8e0" opacity="0.25"/><circle cx="466" cy="350" r="4.2" fill="#9fdcff"/><circle cx="312" cy="318" r="7.6" fill="#4fa8e0" opacity="0.25"/><circle cx="312" cy="318" r="4.2" fill="#e8fbff"/><circle cx="268" cy="287" r="9.0" fill="#4fa8e0" opacity="0.25"/><circle cx="268" cy="287" r="5" fill="#7fc8f2"/><circle cx="344" cy="316" r="5.4" fill="#4fa8e0" opacity="0.25"/><circle cx="344" cy="316" r="3" fill="#9fdcff"/><circle cx="437" cy="323" r="6.5" fill="#4fa8e0" opacity="0.25"/><circle cx="437" cy="323" r="3.6" fill="#e8fbff"/><circle cx="516" cy="367" r="9.0" fill="#4fa8e0" opacity="0.25"/><circle cx="516" cy="367" r="5" fill="#c9f1ff"/><circle cx="542" cy="310" r="5.4" fill="#4fa8e0" opacity="0.25"/><circle cx="542" cy="310" r="3" fill="#c9f1ff"/><circle cx="295" cy="305" r="9.0" fill="#4fa8e0" opacity="0.25"/><circle cx="295" cy="305" r="5" fill="#9fdcff"/><circle cx="510" cy="384" r="6.5" fill="#4fa8e0" opacity="0.25"/><circle cx="510" cy="384" r="3.6" fill="#9fdcff"/><circle cx="499" cy="372" r="6.5" fill="#4fa8e0" opacity="0.25"/><circle cx="499" cy="372" r="3.6" fill="#c9f1ff"/><circle cx="635" cy="324" r="6.5" fill="#4fa8e0" opacity="0.25"/><circle cx="635" cy="324" r="3.6" fill="#c9f1ff"/><circle cx="136" cy="303" r="7.6" fill="#4fa8e0" opacity="0.25"/><circle cx="136" cy="303" r="4.2" fill="#c9f1ff"/><circle cx="276" cy="342" r="9.0" fill="#4fa8e0" opacity="0.25"/><circle cx="276" cy="342" r="5" fill="#c9f1ff"/><circle cx="362" cy="339" r="6.5" fill="#4fa8e0" opacity="0.25"/><circle cx="362" cy="339" r="3.6" fill="#7fc8f2"/><circle cx="303" cy="280" r="9.0" fill="#4fa8e0" opacity="0.25"/><circle cx="303" cy="280" r="5" fill="#c9f1ff"/><circle cx="447" cy="292" r="7.6" fill="#4fa8e0" opacity="0.25"/><circle cx="447" cy="292" r="4.2" fill="#e8fbff"/><circle cx="163" cy="330" r="7.6" fill="#4fa8e0" opacity="0.25"/><circle cx="163" cy="330" r="4.2" fill="#e8fbff"/><circle cx="403" cy="337" r="5.4" fill="#4fa8e0" opacity="0.25"/><circle cx="403" cy="337" r="3" fill="#7fc8f2"/><circle cx="315" cy="370" r="7.6" fill="#4fa8e0" opacity="0.25"/><circle cx="315" cy="370" r="4.2" fill="#e8fbff"/><circle cx="296" cy="365" r="9.0" fill="#4fa8e0" opacity="0.25"/><circle cx="296" cy="365" r="5" fill="#c9f1ff"/><circle cx="238" cy="346" r="7.6" fill="#4fa8e0" opacity="0.25"/><circle cx="238" cy="346" r="4.2" fill="#9fdcff"/><circle cx="507" cy="283" r="7.6" fill="#4fa8e0" opacity="0.25"/><circle cx="507" cy="283" r="4.2" fill="#e8fbff"/><circle cx="328" cy="305" r="5.4" fill="#4fa8e0" opacity="0.25"/><circle cx="328" cy="305" r="3" fill="#c9f1ff"/><circle cx="366" cy="342" r="5.4" fill="#4fa8e0" opacity="0.25"/><circle cx="366" cy="342" r="3" fill="#9fdcff"/><circle cx="130" cy="335" r="7.6" fill="#4fa8e0" opacity="0.25"/><circle cx="130" cy="335" r="4.2" fill="#9fdcff"/><circle cx="385" cy="330" r="9.0" fill="#4fa8e0" opacity="0.25"/><circle cx="385" cy="330" r="5" fill="#7fc8f2"/><circle cx="421" cy="281" r="9.0" fill="#4fa8e0" opacity="0.25"/><circle cx="421" cy="281" r="5" fill="#c9f1ff"/><circle cx="233" cy="272" r="5.4" fill="#4fa8e0" opacity="0.25"/><circle cx="233" cy="272" r="3" fill="#9fdcff"/><circle cx="448" cy="381" r="7.6" fill="#4fa8e0" opacity="0.25"/><circle cx="448" cy="381" r="4.2" fill="#e8fbff"/><circle cx="587" cy="339" r="9.0" fill="#4fa8e0" opacity="0.25"/><circle cx="587" cy="339" r="5" fill="#e8fbff"/><circle cx="124" cy="330" r="9.0" fill="#4fa8e0" opacity="0.25"/><circle cx="124" cy="330" r="5" fill="#c9f1ff"/><circle cx="178" cy="280" r="9.0" fill="#4fa8e0" opacity="0.25"/><circle cx="178" cy="280" r="5" fill="#c9f1ff"/><circle cx="495" cy="322" r="5.4" fill="#4fa8e0" opacity="0.25"/><circle cx="495" cy="322" r="3" fill="#e8fbff"/><circle cx="560" cy="362" r="9.0" fill="#4fa8e0" opacity="0.25"/><circle cx="560" cy="362" r="5" fill="#9fdcff"/><circle cx="504" cy="318" r="6.5" fill="#4fa8e0" opacity="0.25"/><circle cx="504" cy="318" r="3.6" fill="#9fdcff"/><circle cx="242" cy="347" r="5.4" fill="#4fa8e0" opacity="0.25"/><circle cx="242" cy="347" r="3" fill="#7fc8f2"/><circle cx="470" cy="353" r="7.6" fill="#4fa8e0" opacity="0.25"/><circle cx="470" cy="353" r="4.2" fill="#7fc8f2"/><circle cx="450" cy="395" r="6.5" fill="#4fa8e0" opacity="0.25"/><circle cx="450" cy="395" r="3.6" fill="#9fdcff"/><circle cx="242" cy="285" r="6.5" fill="#4fa8e0" opacity="0.25"/><circle cx="242" cy="285" r="3.6" fill="#c9f1ff"/><circle cx="507" cy="299" r="9.0" fill="#4fa8e0" opacity="0.25"/><circle cx="507" cy="299" r="5" fill="#7fc8f2"/><circle cx="428" cy="307" r="9.0" fill="#4fa8e0" opacity="0.25"/><circle cx="428" cy="307" r="5" fill="#e8fbff"/><circle cx="558" cy="355" r="5.4" fill="#4fa8e0" opacity="0.25"/><circle cx="558" cy="355" r="3" fill="#e8fbff"/><circle cx="582" cy="368" r="9.0" fill="#4fa8e0" opacity="0.25"/><circle cx="582" cy="368" r="5" fill="#9fdcff"/><circle cx="408" cy="276" r="5.4" fill="#4fa8e0" opacity="0.25"/><circle cx="408" cy="276" r="3" fill="#9fdcff"/><circle cx="161" cy="343" r="6.5" fill="#4fa8e0" opacity="0.25"/><circle cx="161" cy="343" r="3.6" fill="#7fc8f2"/><circle cx="567" cy="364" r="6.5" fill="#4fa8e0" opacity="0.25"/><circle cx="567" cy="364" r="3.6" fill="#9fdcff"/><circle cx="579" cy="363" r="9.0" fill="#4fa8e0" opacity="0.25"/><circle cx="579" cy="363" r="5" fill="#9fdcff"/><circle cx="234" cy="280" r="5.4" fill="#4fa8e0" opacity="0.25"/><circle cx="234" cy="280" r="3" fill="#9fdcff"/><circle cx="510" cy="345" r="9.0" fill="#4fa8e0" opacity="0.25"/><circle cx="510" cy="345" r="5" fill="#9fdcff"/><circle cx="452" cy="294" r="7.6" fill="#4fa8e0" opacity="0.25"/><circle cx="452" cy="294" r="4.2" fill="#e8fbff"/><circle cx="242" cy="303" r="7.6" fill="#4fa8e0" opacity="0.25"/><circle cx="242" cy="303" r="4.2" fill="#9fdcff"/><circle cx="490" cy="305" r="7.6" fill="#4fa8e0" opacity="0.25"/><circle cx="490" cy="305" r="4.2" fill="#e8fbff"/><circle cx="564" cy="343" r="5.4" fill="#4fa8e0" opacity="0.25"/><circle cx="564" cy="343" r="3" fill="#e8fbff"/><circle cx="117" cy="328" r="5.4" fill="#4fa8e0" opacity="0.25"/><circle cx="117" cy="328" r="3" fill="#7fc8f2"/><circle cx="409" cy="357" r="5.4" fill="#4fa8e0" opacity="0.25"/><circle cx="409" cy="357" r="3" fill="#7fc8f2"/><circle cx="367" cy="324" r="6.5" fill="#4fa8e0" opacity="0.25"/><circle cx="367" cy="324" r="3.6" fill="#e8fbff"/><circle cx="381" cy="337" r="6.5" fill="#4fa8e0" opacity="0.25"/><circle cx="381" cy="337" r="3.6" fill="#7fc8f2"/><circle cx="226" cy="275" r="5.4" fill="#4fa8e0" opacity="0.25"/><circle cx="226" cy="275" r="3" fill="#e8fbff"/><circle cx="529" cy="355" r="5.4" fill="#4fa8e0" opacity="0.25"/><circle cx="529" cy="355" r="3" fill="#7fc8f2"/><circle cx="294" cy="310" r="9.0" fill="#4fa8e0" opacity="0.25"/><circle cx="294" cy="310" r="5" fill="#9fdcff"/><circle cx="330" cy="347" r="7.6" fill="#4fa8e0" opacity="0.25"/><circle cx="330" cy="347" r="4.2" fill="#c9f1ff"/><circle cx="265" cy="314" r="6.5" fill="#4fa8e0" opacity="0.25"/><circle cx="265" cy="314" r="3.6" fill="#e8fbff"/><circle cx="424" cy="353" r="5.4" fill="#4fa8e0" opacity="0.25"/><circle cx="424" cy="353" r="3" fill="#7fc8f2"/><circle cx="417" cy="328" r="9.0" fill="#4fa8e0" opacity="0.25"/><circle cx="417" cy="328" r="5" fill="#7fc8f2"/><circle cx="192" cy="316" r="7.6" fill="#4fa8e0" opacity="0.25"/><circle cx="192" cy="316" r="4.2" fill="#c9f1ff"/><circle cx="169" cy="319" r="6.5" fill="#4fa8e0" opacity="0.25"/><circle cx="169" cy="319" r="3.6" fill="#c9f1ff"/><circle cx="246" cy="363" r="6.5" fill="#4fa8e0" opacity="0.25"/><circle cx="246" cy="363" r="3.6" fill="#c9f1ff"/><circle cx="429" cy="302" r="6.5" fill="#4fa8e0" opacity="0.25"/><circle cx="429" cy="302" r="3.6" fill="#7fc8f2"/><circle cx="190" cy="349" r="6.5" fill="#4fa8e0" opacity="0.25"/><circle cx="190" cy="349" r="3.6" fill="#e8fbff"/><circle cx="182" cy="272" r="7.6" fill="#4fa8e0" opacity="0.25"/><circle cx="182" cy="272" r="4.2" fill="#7fc8f2"/><circle cx="337" cy="279" r="5.4" fill="#4fa8e0" opacity="0.25"/><circle cx="337" cy="279" r="3" fill="#7fc8f2"/><circle cx="213" cy="308" r="5.4" fill="#4fa8e0" opacity="0.25"/><circle cx="213" cy="308" r="3" fill="#9fdcff"/><circle cx="317" cy="369" r="6.5" fill="#4fa8e0" opacity="0.25"/><circle cx="317" cy="369" r="3.6" fill="#7fc8f2"/><circle cx="352" cy="271" r="9.0" fill="#4fa8e0" opacity="0.25"/><circle cx="352" cy="271" r="5" fill="#9fdcff"/><circle cx="504" cy="386" r="9.0" fill="#4fa8e0" opacity="0.25"/><circle cx="504" cy="386" r="5" fill="#e8fbff"/><circle cx="561" cy="350" r="6.5" fill="#4fa8e0" opacity="0.25"/><circle cx="561" cy="350" r="3.6" fill="#c9f1ff"/><circle cx="450" cy="318" r="7.6" fill="#4fa8e0" opacity="0.25"/><circle cx="450" cy="318" r="4.2" fill="#7fc8f2"/><circle cx="442" cy="265" r="9.0" fill="#4fa8e0" opacity="0.25"/><circle cx="442" cy="265" r="5" fill="#c9f1ff"/><circle cx="526" cy="357" r="6.5" fill="#4fa8e0" opacity="0.25"/><circle cx="526" cy="357" r="3.6" fill="#7fc8f2"/><circle cx="563" cy="322" r="5.4" fill="#4fa8e0" opacity="0.25"/><circle cx="563" cy="322" r="3" fill="#e8fbff"/><circle cx="382" cy="349" r="6.5" fill="#4fa8e0" opacity="0.25"/><circle cx="382" cy="349" r="3.6" fill="#7fc8f2"/><circle cx="524" cy="308" r="9.0" fill="#4fa8e0" opacity="0.25"/><circle cx="524" cy="308" r="5" fill="#9fdcff"/><circle cx="121" cy="332" r="6.5" fill="#4fa8e0" opacity="0.25"/><circle cx="121" cy="332" r="3.6" fill="#c9f1ff"/><circle cx="383" cy="265" r="9.0" fill="#4fa8e0" opacity="0.25"/><circle cx="383" cy="265" r="5" fill="#c9f1ff"/><circle cx="491" cy="327" r="7.6" fill="#4fa8e0" opacity="0.25"/><circle cx="491" cy="327" r="4.2" fill="#7fc8f2"/><circle cx="214" cy="353" r="9.0" fill="#4fa8e0" opacity="0.25"/><circle cx="214" cy="353" r="5" fill="#9fdcff"/><circle cx="497" cy="342" r="5.4" fill="#4fa8e0" opacity="0.25"/><circle cx="497" cy="342" r="3" fill="#7fc8f2"/><circle cx="250" cy="310" r="5.4" fill="#4fa8e0" opacity="0.25"/><circle cx="250" cy="310" r="3" fill="#9fdcff"/><circle cx="328" cy="313" r="7.6" fill="#4fa8e0" opacity="0.25"/><circle cx="328" cy="313" r="4.2" fill="#7fc8f2"/><circle cx="160" cy="296" r="9.0" fill="#4fa8e0" opacity="0.25"/><circle cx="160" cy="296" r="5" fill="#c9f1ff"/><circle cx="352" cy="275" r="5.4" fill="#4fa8e0" opacity="0.25"/><circle cx="352" cy="275" r="3" fill="#c9f1ff"/><circle cx="356" cy="334" r="6.5" fill="#4fa8e0" opacity="0.25"/><circle cx="356" cy="334" r="3.6" fill="#c9f1ff"/><circle cx="292" cy="346" r="9.0" fill="#4fa8e0" opacity="0.25"/><circle cx="292" cy="346" r="5" fill="#e8fbff"/><circle cx="454" cy="367" r="9.0" fill="#4fa8e0" opacity="0.25"/><circle cx="454" cy="367" r="5" fill="#7fc8f2"/><circle cx="484" cy="353" r="9.0" fill="#4fa8e0" opacity="0.25"/><circle cx="484" cy="353" r="5" fill="#c9f1ff"/><circle cx="362" cy="371" r="7.6" fill="#4fa8e0" opacity="0.25"/><circle cx="362" cy="371" r="4.2" fill="#7fc8f2"/><circle cx="234" cy="295" r="9.0" fill="#4fa8e0" opacity="0.25"/><circle cx="234" cy="295" r="5" fill="#e8fbff"/><circle cx="334" cy="346" r="7.6" fill="#4fa8e0" opacity="0.25"/><circle cx="334" cy="346" r="4.2" fill="#c9f1ff"/><circle cx="594" cy="368" r="6.5" fill="#4fa8e0" opacity="0.25"/><circle cx="594" cy="368" r="3.6" fill="#7fc8f2"/><circle cx="457" cy="288" r="5.4" fill="#4fa8e0" opacity="0.25"/><circle cx="457" cy="288" r="3" fill="#c9f1ff"/><circle cx="346" cy="368" r="6.5" fill="#4fa8e0" opacity="0.25"/><circle cx="346" cy="368" r="3.6" fill="#e8fbff"/><circle cx="586" cy="341" r="5.4" fill="#4fa8e0" opacity="0.25"/><circle cx="586" cy="341" r="3" fill="#7fc8f2"/></g>
    <!-- window -->
    <polygon points="35,470 120,430 260,400 405,400 420,455 400,510 100,540 45,500" fill="url(#winG)"/>
    <polygon points="80,470 130,440 300,415 310,500 90,520" fill="#d9d0d9" opacity="0.7"/>
    <g stroke="#8e8595" stroke-width="5" opacity="0.7"><line x1="130" y1="440" x2="130" y2="520"/><line x1="230" y1="420" x2="230" y2="510"/><line x1="320" y1="410" x2="320" y2="505"/><line x1="90" y1="495" x2="400" y2="480"/></g>
    <!-- left pillar / door -->
    <polygon points="0,380 40,470 50,505 110,800 0,830" fill="#090c13"/>
    <polygon points="55,545 400,512 330,640 260,760 130,780 100,640" fill="#131a29"/>
    <path d="M90 625 L300 600" stroke="#40608a" stroke-width="9" opacity="0.8"/>
    <path d="M100 650 L280 640" stroke="#1e2c44" stroke-width="16"/>
    <!-- console & gear -->
    <polygon points="120,790 260,760 330,760 430,740 520,830 120,830" fill="#1a2436"/>
    <path d="M180 675 Q210 660 235 690 L300 760" stroke="#5e7494" stroke-width="10" fill="none" opacity="0.85"/>
    <path d="M335 765 L430 750 L455 780" stroke="#6f8aae" stroke-width="9" fill="none" opacity="0.8"/>
    <!-- middle seat -->
    <polygon points="405,440 440,395 480,400 502,440 480,482 420,492" fill="#1b2334"/>
    <path d="M407 440 L440 396 L480 401" stroke="#6d86a8" stroke-width="8" fill="none"/>
    <polygon points="300,690 350,560 420,500 500,482 532,540 480,640 400,762 330,762" fill="#202a3e"/>
    <path d="M420 502 L352 562 L302 690" stroke="#8fa8c8" stroke-width="12" fill="none" opacity="0.9"/>
    <path d="M455 500 L390 610 L350 740" stroke="#6f88aa" stroke-width="10" fill="none" opacity="0.8"/>
    <path d="M505 490 L528 542 L478 642 L410 752" stroke="#54698a" stroke-width="11" fill="none" opacity="0.85"/>
    <polygon points="400,610 450,540 490,560 440,650 395,720" fill="#35435c"/>
    <!-- main seat -->
    <polygon points="720,392 740,250 830,215 902,260 926,380 760,402" fill="#1c2331"/>
    <path d="M741 252 L830 217 L902 262" stroke="#6f87a4" stroke-width="10" fill="none"/>
    <path d="M741 252 L722 390" stroke="#4c607c" stroke-width="9" fill="none"/>
    <polygon points="760,330 800,300 880,300 900,370 770,385" fill="#2a3446"/>
    <polygon points="720,400 926,380 1010,470 1000,600 900,830 520,830 490,760 560,600 600,470" fill="#242d3e"/>
    <polygon points="600,470 702,420 692,500 600,720 522,830 490,760 560,600" fill="url(#bolG)"/>
    <polygon points="640,470 700,430 690,500 610,690 570,720 600,560" fill="#1e2738" opacity="0.55"/>
    <polygon points="700,520 722,430 890,410 902,500 880,532" fill="#7f8a98"/>
    <polygon points="712,500 730,440 880,424 890,490" fill="#9aa4ae" opacity="0.6"/>
    <polygon points="680,540 890,530 902,600 822,830 580,830 600,720" fill="#3b4555"/>
    <g stroke="#626e82" stroke-width="4" opacity="0.85">
      <line x1="670" y1="580" x2="898" y2="570"/><line x1="650" y1="630" x2="888" y2="622"/><line x1="628" y1="685" x2="872" y2="678"/><line x1="606" y1="740" x2="852" y2="735"/><line x1="590" y1="795" x2="834" y2="792"/>
      <line x1="730" y1="538" x2="640" y2="830"/><line x1="780" y1="536" x2="695" y2="830"/><line x1="830" y1="534" x2="750" y2="830"/><line x1="875" y1="532" x2="800" y2="830"/>
    </g>
    <polygon points="900,400 962,380 1012,470 1002,600 902,830 822,830 902,600" fill="url(#rbolG)"/>
    <polygon points="962,380 1040,400 1060,600 980,830 902,830 1002,600 1012,470" fill="#4a3856"/>
    <polygon points="985,430 1035,440 1045,600 1000,740 990,600" fill="#7a5e88" opacity="0.7"/>
    <!-- far right -->
    <polygon points="1040,300 1160,260 1160,830 980,830 1060,600" fill="#302f37"/>
    <path d="M1085 640 L1110 700" stroke="#c9ccd8" stroke-width="14"/>
    <!-- lower continuation -->
    <polygon points="330,826 1090,826 1060,1150 250,1150 300,900" fill="#2a3242"/>
    <polygon points="520,830 900,830 960,900 900,1150 420,1150 440,920" fill="#39414f"/>
    <polygon points="900,830 980,830 1080,880 1040,1150 900,1150 960,900" fill="#4d4658"/>
    <polygon points="100,800 430,745 520,830 440,920 300,1150 60,1150" fill="#171e2c"/>
    <!-- label band -->
    <rect x="0" y="815" width="1160" height="340" fill="#0a0c12" opacity="0.5"/>
    
   </g>
  </g>
</g>
<!-- ============ POOL ============ -->
<g id="pool">
  <defs>
    <linearGradient id="poolG" x1="0" y1="0" x2="0" y2="1">
      <stop offset="0" stop-color="#349a7c"/>
      <stop offset="0.3" stop-color="#247c64"/>
      <stop offset="0.75" stop-color="#195848"/>
      <stop offset="1" stop-color="#123e35"/>
    </linearGradient>
    <linearGradient id="rwallG" x1="0" y1="0" x2="0" y2="1">
      <stop offset="0" stop-color="#3e3328"/>
      <stop offset="0.35" stop-color="#75634c"/>
      <stop offset="0.75" stop-color="#9a8468"/>
      <stop offset="1" stop-color="#7e6b52"/>
    </linearGradient>
    <linearGradient id="ceilG" x1="0" y1="0" x2="1" y2="0">
      <stop offset="0" stop-color="#3a3937"/><stop offset="0.5" stop-color="#272725"/><stop offset="1" stop-color="#1e1e1c"/>
    </linearGradient>
  </defs>
  <ellipse cx="117.3" cy="747.9" rx="117.1" ry="116.9" fill="#a3a3a3" opacity="0.5" filter="url(#b1)"/>
  <ellipse cx="118.2" cy="746.4" rx="117.3" ry="117.1" fill="url(#ringG)"/>
  <ellipse cx="118.4" cy="745.8" rx="116.1" ry="115.8" fill="#fbfbfb"/>
  <g clip-path="url(#cP)">
   <g transform="translate(0,625) scale(0.20816)" filter="url(#bs)">
    <rect x="0" y="0" width="1160" height="1200" fill="url(#ceilG)"/>
    <ellipse cx="520" cy="290" rx="120" ry="250" fill="#4a4a46" opacity="0.55" filter="url(#bz)" transform="rotate(-22 520 290)"/>
    <g><circle cx="405" cy="251" r="4.4" fill="#f4f2ea" opacity="0.75"/><circle cx="525" cy="275" r="4.4" fill="#f4f2ea" opacity="0.69"/><circle cx="471" cy="58" r="2.4" fill="#f4f2ea" opacity="0.82"/><circle cx="429" cy="262" r="3" fill="#f4f2ea" opacity="0.83"/><circle cx="543" cy="448" r="3" fill="#f4f2ea" opacity="0.82"/><circle cx="474" cy="173" r="2.4" fill="#f4f2ea" opacity="0.85"/><circle cx="511" cy="381" r="2.4" fill="#f4f2ea" opacity="0.87"/><circle cx="518" cy="232" r="2.4" fill="#f4f2ea" opacity="0.80"/><circle cx="483" cy="124" r="2.4" fill="#f4f2ea" opacity="0.98"/><circle cx="561" cy="447" r="2.4" fill="#f4f2ea" opacity="0.76"/><circle cx="590" cy="340" r="2.4" fill="#f4f2ea" opacity="0.69"/><circle cx="271" cy="103" r="3" fill="#f4f2ea" opacity="0.66"/><circle cx="552" cy="125" r="3" fill="#f4f2ea" opacity="0.86"/><circle cx="263" cy="140" r="3" fill="#f4f2ea" opacity="0.74"/><circle cx="366" cy="298" r="2.4" fill="#f4f2ea" opacity="0.67"/><circle cx="496" cy="442" r="2.4" fill="#f4f2ea" opacity="0.64"/><circle cx="599" cy="213" r="2.4" fill="#f4f2ea" opacity="0.57"/><circle cx="442" cy="127" r="5.2" fill="#f4f2ea" opacity="0.70"/><circle cx="531" cy="204" r="5.2" fill="#f4f2ea" opacity="0.84"/><circle cx="339" cy="98" r="3" fill="#f4f2ea" opacity="0.98"/><circle cx="436" cy="265" r="3" fill="#f4f2ea" opacity="0.83"/><circle cx="522" cy="246" r="3" fill="#f4f2ea" opacity="0.62"/><circle cx="504" cy="348" r="4.4" fill="#f4f2ea" opacity="0.95"/><circle cx="566" cy="358" r="2.4" fill="#f4f2ea" opacity="0.78"/><circle cx="485" cy="148" r="4.4" fill="#f4f2ea" opacity="0.92"/><circle cx="577" cy="366" r="2.4" fill="#f4f2ea" opacity="0.61"/><circle cx="505" cy="256" r="2.4" fill="#f4f2ea" opacity="0.68"/><circle cx="471" cy="188" r="3" fill="#f4f2ea" opacity="0.68"/><circle cx="603" cy="313" r="3" fill="#f4f2ea" opacity="0.95"/><circle cx="430" cy="429" r="5.2" fill="#f4f2ea" opacity="0.98"/><circle cx="658" cy="329" r="3.6" fill="#f4f2ea" opacity="0.87"/><circle cx="553" cy="265" r="2.4" fill="#f4f2ea" opacity="0.58"/><circle cx="564" cy="259" r="3" fill="#f4f2ea" opacity="0.91"/><circle cx="544" cy="433" r="2.4" fill="#f4f2ea" opacity="0.94"/><circle cx="535" cy="316" r="5.2" fill="#f4f2ea" opacity="0.56"/><circle cx="455" cy="101" r="3.6" fill="#f4f2ea" opacity="0.95"/><circle cx="489" cy="439" r="5.2" fill="#f4f2ea" opacity="0.76"/><circle cx="474" cy="272" r="5.2" fill="#f4f2ea" opacity="0.56"/><circle cx="550" cy="353" r="2.4" fill="#f4f2ea" opacity="0.77"/><circle cx="623" cy="345" r="2.4" fill="#f4f2ea" opacity="0.72"/><circle cx="386" cy="101" r="3.6" fill="#f4f2ea" opacity="0.85"/><circle cx="599" cy="254" r="3.6" fill="#f4f2ea" opacity="0.64"/><circle cx="601" cy="203" r="3" fill="#f4f2ea" opacity="0.72"/><circle cx="570" cy="356" r="4.4" fill="#f4f2ea" opacity="0.71"/><circle cx="526" cy="457" r="3.6" fill="#f4f2ea" opacity="0.92"/><circle cx="282" cy="123" r="4.4" fill="#f4f2ea" opacity="0.72"/><circle cx="518" cy="268" r="5.2" fill="#f4f2ea" opacity="0.75"/><circle cx="566" cy="106" r="2.4" fill="#f4f2ea" opacity="0.86"/><circle cx="437" cy="225" r="5.2" fill="#f4f2ea" opacity="0.56"/><circle cx="433" cy="123" r="3.6" fill="#f4f2ea" opacity="0.66"/><circle cx="544" cy="136" r="4.4" fill="#f4f2ea" opacity="0.60"/><circle cx="531" cy="296" r="2.4" fill="#f4f2ea" opacity="0.86"/><circle cx="426" cy="153" r="2.4" fill="#f4f2ea" opacity="0.89"/><circle cx="623" cy="322" r="3.6" fill="#f4f2ea" opacity="0.79"/><circle cx="519" cy="94" r="3" fill="#f4f2ea" opacity="0.59"/><circle cx="489" cy="444" r="4.4" fill="#f4f2ea" opacity="0.64"/><circle cx="579" cy="455" r="5.2" fill="#f4f2ea" opacity="0.91"/><circle cx="449" cy="98" r="2.4" fill="#f4f2ea" opacity="0.65"/><circle cx="655" cy="445" r="5.2" fill="#f4f2ea" opacity="0.99"/><circle cx="386" cy="67" r="3.6" fill="#f4f2ea" opacity="0.80"/><circle cx="535" cy="426" r="2.4" fill="#f4f2ea" opacity="0.74"/><circle cx="308" cy="66" r="3" fill="#f4f2ea" opacity="0.76"/><circle cx="524" cy="449" r="4.4" fill="#f4f2ea" opacity="0.98"/><circle cx="591" cy="292" r="3" fill="#f4f2ea" opacity="0.75"/><circle cx="624" cy="296" r="3" fill="#f4f2ea" opacity="0.79"/><circle cx="481" cy="437" r="4.4" fill="#f4f2ea" opacity="0.98"/><circle cx="479" cy="434" r="3" fill="#f4f2ea" opacity="0.99"/><circle cx="529" cy="303" r="5.2" fill="#f4f2ea" opacity="0.60"/><circle cx="339" cy="88" r="2.4" fill="#f4f2ea" opacity="0.78"/><circle cx="569" cy="214" r="4.4" fill="#f4f2ea" opacity="0.59"/><circle cx="529" cy="121" r="4.4" fill="#f4f2ea" opacity="0.67"/><circle cx="610" cy="309" r="4.4" fill="#f4f2ea" opacity="0.79"/><circle cx="423" cy="112" r="3.6" fill="#f4f2ea" opacity="0.61"/><circle cx="581" cy="433" r="3" fill="#f4f2ea" opacity="0.56"/><circle cx="491" cy="170" r="4.4" fill="#f4f2ea" opacity="0.60"/><circle cx="604" cy="434" r="3.6" fill="#f4f2ea" opacity="0.87"/><circle cx="573" cy="391" r="4.4" fill="#f4f2ea" opacity="0.92"/><circle cx="479" cy="343" r="5.2" fill="#f4f2ea" opacity="0.84"/><circle cx="630" cy="282" r="3" fill="#f4f2ea" opacity="0.65"/><circle cx="599" cy="353" r="3.6" fill="#f4f2ea" opacity="0.82"/><circle cx="589" cy="184" r="3" fill="#f4f2ea" opacity="0.88"/><circle cx="599" cy="212" r="4.4" fill="#f4f2ea" opacity="0.79"/><circle cx="587" cy="437" r="2.4" fill="#f4f2ea" opacity="0.59"/><circle cx="501" cy="378" r="3.6" fill="#f4f2ea" opacity="0.60"/><circle cx="571" cy="267" r="3" fill="#f4f2ea" opacity="0.91"/><circle cx="678" cy="299" r="5.2" fill="#f4f2ea" opacity="0.78"/><circle cx="609" cy="350" r="3" fill="#f4f2ea" opacity="0.63"/><circle cx="434" cy="175" r="5.2" fill="#f4f2ea" opacity="0.58"/><circle cx="432" cy="221" r="4.4" fill="#f4f2ea" opacity="0.64"/><circle cx="517" cy="230" r="3" fill="#f4f2ea" opacity="0.63"/><circle cx="549" cy="246" r="3" fill="#f4f2ea" opacity="0.82"/><circle cx="449" cy="77" r="2.4" fill="#f4f2ea" opacity="0.91"/><circle cx="614" cy="365" r="4.4" fill="#f4f2ea" opacity="0.81"/><circle cx="412" cy="132" r="3.6" fill="#f4f2ea" opacity="0.68"/><circle cx="439" cy="95" r="4.4" fill="#f4f2ea" opacity="0.61"/><circle cx="450" cy="208" r="4.4" fill="#f4f2ea" opacity="0.89"/><circle cx="537" cy="242" r="3.6" fill="#f4f2ea" opacity="0.69"/><circle cx="598" cy="46" r="5.2" fill="#f4f2ea" opacity="0.57"/><circle cx="553" cy="180" r="3" fill="#f4f2ea" opacity="0.85"/><circle cx="514" cy="329" r="4.4" fill="#f4f2ea" opacity="0.84"/><circle cx="576" cy="312" r="2.4" fill="#f4f2ea" opacity="0.60"/><circle cx="444" cy="141" r="5.2" fill="#f4f2ea" opacity="0.57"/><circle cx="446" cy="158" r="3.6" fill="#f4f2ea" opacity="0.67"/><circle cx="449" cy="213" r="5.2" fill="#f4f2ea" opacity="0.81"/><circle cx="407" cy="428" r="2.4" fill="#f4f2ea" opacity="0.80"/><circle cx="625" cy="373" r="3" fill="#f4f2ea" opacity="0.72"/><circle cx="523" cy="436" r="5.2" fill="#f4f2ea" opacity="0.58"/><circle cx="551" cy="367" r="3.6" fill="#f4f2ea" opacity="0.80"/><circle cx="487" cy="167" r="2.4" fill="#f4f2ea" opacity="0.90"/><circle cx="538" cy="320" r="4.4" fill="#f4f2ea" opacity="0.57"/><circle cx="436" cy="231" r="3.6" fill="#f4f2ea" opacity="0.58"/><circle cx="481" cy="427" r="3" fill="#f4f2ea" opacity="0.82"/><circle cx="385" cy="89" r="3" fill="#f4f2ea" opacity="0.94"/><circle cx="562" cy="252" r="3" fill="#f4f2ea" opacity="0.85"/><circle cx="547" cy="317" r="4.4" fill="#f4f2ea" opacity="0.71"/><circle cx="566" cy="400" r="3.6" fill="#f4f2ea" opacity="0.88"/><circle cx="595" cy="211" r="5.2" fill="#f4f2ea" opacity="0.83"/><circle cx="511" cy="275" r="5.2" fill="#f4f2ea" opacity="0.86"/><circle cx="457" cy="167" r="3" fill="#f4f2ea" opacity="0.78"/><circle cx="605" cy="417" r="2.4" fill="#f4f2ea" opacity="0.55"/><circle cx="510" cy="181" r="3" fill="#f4f2ea" opacity="0.79"/><circle cx="515" cy="116" r="5.2" fill="#f4f2ea" opacity="0.66"/><circle cx="481" cy="220" r="2.4" fill="#f4f2ea" opacity="0.91"/><circle cx="610" cy="222" r="3" fill="#f4f2ea" opacity="0.75"/><circle cx="529" cy="427" r="3" fill="#f4f2ea" opacity="0.84"/><circle cx="605" cy="401" r="3.6" fill="#f4f2ea" opacity="0.81"/><circle cx="516" cy="315" r="4.4" fill="#f4f2ea" opacity="0.80"/><circle cx="538" cy="269" r="2.4" fill="#f4f2ea" opacity="0.58"/><circle cx="459" cy="146" r="3.6" fill="#f4f2ea" opacity="0.77"/><circle cx="442" cy="137" r="2.4" fill="#f4f2ea" opacity="0.70"/><circle cx="425" cy="234" r="3.6" fill="#f4f2ea" opacity="0.75"/><circle cx="676" cy="224" r="3" fill="#f4f2ea" opacity="0.59"/><circle cx="612" cy="451" r="5.2" fill="#f4f2ea" opacity="0.72"/><circle cx="353" cy="127" r="5.2" fill="#f4f2ea" opacity="0.62"/><circle cx="601" cy="357" r="4.4" fill="#f4f2ea" opacity="0.95"/><circle cx="582" cy="196" r="5.2" fill="#f4f2ea" opacity="0.62"/><circle cx="637" cy="206" r="4.4" fill="#f4f2ea" opacity="0.58"/><circle cx="584" cy="311" r="2.4" fill="#f4f2ea" opacity="0.67"/><circle cx="431" cy="114" r="3" fill="#f4f2ea" opacity="0.59"/><circle cx="615" cy="280" r="4.4" fill="#f4f2ea" opacity="0.73"/><circle cx="621" cy="210" r="4.4" fill="#f4f2ea" opacity="0.77"/><circle cx="607" cy="459" r="2.4" fill="#f4f2ea" opacity="0.73"/><circle cx="477" cy="393" r="4.4" fill="#f4f2ea" opacity="0.93"/><circle cx="585" cy="442" r="5.2" fill="#f4f2ea" opacity="0.71"/><circle cx="526" cy="108" r="3" fill="#f4f2ea" opacity="0.66"/><circle cx="387" cy="99" r="3.6" fill="#f4f2ea" opacity="0.64"/><circle cx="498" cy="339" r="2.4" fill="#f4f2ea" opacity="0.76"/><circle cx="547" cy="425" r="3" fill="#f4f2ea" opacity="0.96"/><circle cx="614" cy="423" r="2.4" fill="#f4f2ea" opacity="0.69"/><circle cx="410" cy="180" r="5.2" fill="#f4f2ea" opacity="0.87"/><circle cx="596" cy="366" r="3.6" fill="#f4f2ea" opacity="0.73"/><circle cx="573" cy="440" r="5.2" fill="#f4f2ea" opacity="0.77"/><circle cx="609" cy="137" r="3.6" fill="#f4f2ea" opacity="0.85"/><circle cx="639" cy="460" r="4.4" fill="#f4f2ea" opacity="0.57"/><circle cx="506" cy="434" r="5.2" fill="#f4f2ea" opacity="0.91"/><circle cx="551" cy="418" r="3" fill="#f4f2ea" opacity="0.95"/><circle cx="564" cy="433" r="3" fill="#f4f2ea" opacity="0.87"/><circle cx="606" cy="367" r="3.6" fill="#f4f2ea" opacity="0.62"/><circle cx="513" cy="441" r="5.2" fill="#f4f2ea" opacity="0.67"/><circle cx="644" cy="359" r="2.4" fill="#f4f2ea" opacity="0.64"/><circle cx="459" cy="202" r="4.4" fill="#f4f2ea" opacity="0.86"/><circle cx="428" cy="60" r="5.2" fill="#f4f2ea" opacity="0.69"/><circle cx="454" cy="83" r="5.2" fill="#f4f2ea" opacity="0.74"/><circle cx="734" cy="272" r="3.6" fill="#f4f2ea" opacity="0.69"/><circle cx="400" cy="126" r="2.4" fill="#f4f2ea" opacity="0.71"/><circle cx="612" cy="408" r="4.4" fill="#f4f2ea" opacity="0.89"/><circle cx="587" cy="456" r="4.4" fill="#f4f2ea" opacity="0.87"/><circle cx="550" cy="302" r="2.4" fill="#f4f2ea" opacity="0.94"/><circle cx="502" cy="383" r="3" fill="#f4f2ea" opacity="0.68"/><circle cx="475" cy="232" r="3.6" fill="#f4f2ea" opacity="0.89"/><circle cx="618" cy="338" r="4.4" fill="#f4f2ea" opacity="0.88"/><circle cx="600" cy="202" r="3.6" fill="#f4f2ea" opacity="0.75"/><circle cx="612" cy="266" r="3" fill="#f4f2ea" opacity="0.85"/><circle cx="587" cy="426" r="4.4" fill="#f4f2ea" opacity="0.82"/><circle cx="438" cy="118" r="2.4" fill="#f4f2ea" opacity="0.75"/><circle cx="423" cy="94" r="4.4" fill="#f4f2ea" opacity="0.83"/><circle cx="522" cy="390" r="3" fill="#f4f2ea" opacity="0.85"/><circle cx="637" cy="357" r="3.6" fill="#f4f2ea" opacity="0.69"/><circle cx="506" cy="263" r="3.6" fill="#f4f2ea" opacity="0.90"/><circle cx="506" cy="432" r="5.2" fill="#f4f2ea" opacity="0.96"/><circle cx="528" cy="352" r="3" fill="#f4f2ea" opacity="0.81"/><circle cx="698" cy="106" r="3" fill="#f4f2ea" opacity="0.81"/><circle cx="344" cy="28" r="3" fill="#f4f2ea" opacity="0.66"/><circle cx="564" cy="313" r="3.6" fill="#f4f2ea" opacity="0.67"/><circle cx="404" cy="153" r="2.4" fill="#f4f2ea" opacity="0.80"/><circle cx="676" cy="132" r="3.6" fill="#f4f2ea" opacity="0.82"/><circle cx="469" cy="93" r="3.6" fill="#f4f2ea" opacity="0.66"/><circle cx="605" cy="320" r="5.2" fill="#f4f2ea" opacity="0.92"/><circle cx="453" cy="307" r="3" fill="#f4f2ea" opacity="0.69"/><circle cx="568" cy="353" r="5.2" fill="#f4f2ea" opacity="0.84"/><circle cx="580" cy="449" r="2.4" fill="#f4f2ea" opacity="0.61"/><circle cx="496" cy="235" r="5.2" fill="#f4f2ea" opacity="0.61"/><circle cx="507" cy="168" r="2.4" fill="#f4f2ea" opacity="0.87"/><circle cx="490" cy="454" r="2.4" fill="#f4f2ea" opacity="0.76"/><circle cx="467" cy="224" r="4.4" fill="#f4f2ea" opacity="0.89"/><circle cx="695" cy="291" r="4.4" fill="#f4f2ea" opacity="0.92"/><circle cx="565" cy="160" r="3.6" fill="#f4f2ea" opacity="0.79"/><circle cx="599" cy="251" r="2.4" fill="#f4f2ea" opacity="0.68"/><circle cx="537" cy="369" r="3.6" fill="#f4f2ea" opacity="0.89"/><circle cx="484" cy="196" r="2.4" fill="#f4f2ea" opacity="0.93"/><circle cx="616" cy="114" r="4.4" fill="#f4f2ea" opacity="0.86"/><circle cx="576" cy="339" r="4.4" fill="#f4f2ea" opacity="0.97"/><circle cx="601" cy="452" r="3.6" fill="#f4f2ea" opacity="0.94"/><circle cx="562" cy="241" r="4.4" fill="#f4f2ea" opacity="0.81"/><circle cx="276" cy="98" r="2.4" fill="#f4f2ea" opacity="0.68"/><circle cx="591" cy="410" r="4.4" fill="#f4f2ea" opacity="0.95"/><circle cx="493" cy="459" r="5.2" fill="#f4f2ea" opacity="0.65"/><circle cx="449" cy="210" r="3.6" fill="#f4f2ea" opacity="0.77"/><circle cx="555" cy="455" r="3" fill="#f4f2ea" opacity="0.64"/><circle cx="513" cy="439" r="3.6" fill="#f4f2ea" opacity="0.93"/><circle cx="482" cy="230" r="5.2" fill="#f4f2ea" opacity="0.64"/><circle cx="623" cy="422" r="2.4" fill="#f4f2ea" opacity="0.84"/><circle cx="581" cy="133" r="3.6" fill="#f4f2ea" opacity="0.94"/><circle cx="618" cy="436" r="4.4" fill="#f4f2ea" opacity="0.74"/><circle cx="482" cy="125" r="3" fill="#f4f2ea" opacity="0.67"/><circle cx="514" cy="404" r="3.6" fill="#f4f2ea" opacity="0.72"/><circle cx="629" cy="351" r="3" fill="#f4f2ea" opacity="0.99"/><circle cx="408" cy="91" r="2.4" fill="#f4f2ea" opacity="0.75"/><circle cx="551" cy="312" r="5.2" fill="#f4f2ea" opacity="0.81"/><circle cx="494" cy="337" r="3" fill="#f4f2ea" opacity="0.68"/><circle cx="552" cy="444" r="5.2" fill="#f4f2ea" opacity="0.56"/><circle cx="648" cy="340" r="2.4" fill="#f4f2ea" opacity="0.97"/><circle cx="603" cy="335" r="3.6" fill="#f4f2ea" opacity="0.69"/><circle cx="618" cy="297" r="5.2" fill="#f4f2ea" opacity="0.88"/><circle cx="473" cy="287" r="2.4" fill="#f4f2ea" opacity="0.82"/><circle cx="370" cy="187" r="3" fill="#f4f2ea" opacity="0.67"/><circle cx="633" cy="289" r="3.6" fill="#f4f2ea" opacity="0.57"/><circle cx="569" cy="310" r="3" fill="#f4f2ea" opacity="0.70"/><circle cx="511" cy="319" r="5.2" fill="#f4f2ea" opacity="0.75"/><circle cx="500" cy="170" r="3" fill="#f4f2ea" opacity="0.81"/><circle cx="589" cy="300" r="3" fill="#f4f2ea" opacity="0.57"/><circle cx="503" cy="210" r="5.2" fill="#f4f2ea" opacity="0.90"/><circle cx="469" cy="425" r="5.2" fill="#f4f2ea" opacity="0.63"/><circle cx="547" cy="216" r="5.2" fill="#f4f2ea" opacity="0.90"/><circle cx="365" cy="103" r="3" fill="#f4f2ea" opacity="0.87"/><circle cx="650" cy="387" r="5.2" fill="#f4f2ea" opacity="0.89"/><circle cx="422" cy="141" r="3" fill="#f4f2ea" opacity="0.59"/><circle cx="418" cy="340" r="2.4" fill="#f4f2ea" opacity="0.86"/><circle cx="636" cy="396" r="3.6" fill="#f4f2ea" opacity="0.66"/><circle cx="582" cy="359" r="3" fill="#f4f2ea" opacity="0.71"/><circle cx="613" cy="214" r="2.4" fill="#f4f2ea" opacity="0.62"/><circle cx="701" cy="341" r="5.2" fill="#f4f2ea" opacity="0.86"/><circle cx="421" cy="416" r="4.4" fill="#f4f2ea" opacity="0.94"/><circle cx="371" cy="93" r="5.2" fill="#f4f2ea" opacity="0.91"/><circle cx="484" cy="314" r="3.6" fill="#f4f2ea" opacity="0.76"/><circle cx="532" cy="282" r="4.4" fill="#f4f2ea" opacity="0.64"/><circle cx="630" cy="262" r="3.6" fill="#f4f2ea" opacity="0.98"/><circle cx="495" cy="354" r="5.2" fill="#f4f2ea" opacity="0.73"/><circle cx="487" cy="435" r="3.6" fill="#f4f2ea" opacity="0.58"/><circle cx="563" cy="392" r="3" fill="#f4f2ea" opacity="0.88"/><circle cx="551" cy="459" r="4.4" fill="#f4f2ea" opacity="0.75"/><circle cx="490" cy="430" r="5.2" fill="#f4f2ea" opacity="0.66"/><circle cx="469" cy="111" r="2.4" fill="#f4f2ea" opacity="0.64"/><circle cx="436" cy="262" r="5.2" fill="#f4f2ea" opacity="0.87"/><circle cx="475" cy="136" r="3" fill="#f4f2ea" opacity="0.95"/><circle cx="469" cy="438" r="3" fill="#f4f2ea" opacity="0.72"/><circle cx="525" cy="231" r="2.4" fill="#f4f2ea" opacity="0.89"/><circle cx="679" cy="295" r="3.6" fill="#f4f2ea" opacity="0.85"/><circle cx="477" cy="60" r="3.6" fill="#f4f2ea" opacity="0.85"/><circle cx="513" cy="447" r="3.6" fill="#f4f2ea" opacity="0.59"/><circle cx="528" cy="270" r="4.4" fill="#f4f2ea" opacity="0.97"/><circle cx="485" cy="172" r="4.4" fill="#f4f2ea" opacity="0.64"/><circle cx="563" cy="245" r="3" fill="#f4f2ea" opacity="0.77"/><circle cx="526" cy="158" r="2.4" fill="#f4f2ea" opacity="0.96"/><circle cx="572" cy="79" r="3.6" fill="#f4f2ea" opacity="0.57"/><circle cx="496" cy="280" r="3.6" fill="#f4f2ea" opacity="0.95"/><circle cx="486" cy="98" r="3.6" fill="#f4f2ea" opacity="0.80"/><circle cx="470" cy="164" r="4.4" fill="#f4f2ea" opacity="0.72"/><circle cx="534" cy="216" r="3" fill="#f4f2ea" opacity="0.90"/><circle cx="542" cy="341" r="4.4" fill="#f4f2ea" opacity="0.58"/><circle cx="349" cy="98" r="4.4" fill="#f4f2ea" opacity="0.57"/><circle cx="387" cy="120" r="3.6" fill="#f4f2ea" opacity="0.76"/><circle cx="364" cy="55" r="3.6" fill="#f4f2ea" opacity="0.86"/><circle cx="570" cy="167" r="4.4" fill="#f4f2ea" opacity="0.55"/><circle cx="646" cy="282" r="2.4" fill="#f4f2ea" opacity="0.83"/><circle cx="670" cy="261" r="3.6" fill="#f4f2ea" opacity="0.67"/><circle cx="562" cy="113" r="3" fill="#f4f2ea" opacity="0.86"/><circle cx="668" cy="376" r="3" fill="#f4f2ea" opacity="0.70"/><circle cx="583" cy="367" r="4.4" fill="#f4f2ea" opacity="0.68"/><circle cx="513" cy="412" r="3" fill="#f4f2ea" opacity="0.71"/><circle cx="642" cy="373" r="2.4" fill="#f4f2ea" opacity="1.00"/><circle cx="569" cy="426" r="4.4" fill="#f4f2ea" opacity="0.78"/><circle cx="644" cy="396" r="4.4" fill="#f4f2ea" opacity="0.94"/><circle cx="417" cy="120" r="4.4" fill="#f4f2ea" opacity="0.66"/><circle cx="525" cy="399" r="3" fill="#f4f2ea" opacity="0.70"/><circle cx="607" cy="375" r="5.2" fill="#f4f2ea" opacity="0.99"/><circle cx="643" cy="404" r="3.6" fill="#f4f2ea" opacity="0.91"/><circle cx="369" cy="148" r="3" fill="#f4f2ea" opacity="0.84"/><circle cx="581" cy="425" r="3.6" fill="#f4f2ea" opacity="0.74"/><circle cx="480" cy="406" r="3" fill="#f4f2ea" opacity="0.57"/><circle cx="574" cy="407" r="3.6" fill="#f4f2ea" opacity="0.71"/><circle cx="597" cy="290" r="2.4" fill="#f4f2ea" opacity="0.92"/><circle cx="530" cy="458" r="4.4" fill="#f4f2ea" opacity="0.91"/><circle cx="600" cy="274" r="4.4" fill="#f4f2ea" opacity="0.85"/><circle cx="447" cy="217" r="4.4" fill="#f4f2ea" opacity="0.63"/><circle cx="486" cy="99" r="4.4" fill="#f4f2ea" opacity="0.74"/><circle cx="495" cy="113" r="5.2" fill="#f4f2ea" opacity="0.61"/><circle cx="578" cy="383" r="4.4" fill="#f4f2ea" opacity="0.64"/><circle cx="540" cy="320" r="2.4" fill="#f4f2ea" opacity="0.95"/><circle cx="547" cy="214" r="4.4" fill="#f4f2ea" opacity="0.61"/><circle cx="599" cy="433" r="2.4" fill="#f4f2ea" opacity="0.74"/><circle cx="523" cy="447" r="5.2" fill="#f4f2ea" opacity="0.83"/><circle cx="502" cy="250" r="5.2" fill="#f4f2ea" opacity="0.93"/><circle cx="565" cy="412" r="3" fill="#f4f2ea" opacity="0.79"/><circle cx="570" cy="390" r="5.2" fill="#f4f2ea" opacity="0.69"/><circle cx="617" cy="308" r="3.6" fill="#f4f2ea" opacity="0.55"/><circle cx="618" cy="264" r="4.4" fill="#f4f2ea" opacity="0.73"/><circle cx="583" cy="395" r="2.4" fill="#f4f2ea" opacity="0.97"/><circle cx="599" cy="265" r="5.2" fill="#f4f2ea" opacity="0.56"/><circle cx="594" cy="368" r="3.6" fill="#f4f2ea" opacity="0.78"/><circle cx="595" cy="186" r="4.4" fill="#f4f2ea" opacity="0.71"/><circle cx="549" cy="175" r="2.4" fill="#f4f2ea" opacity="0.67"/><circle cx="484" cy="165" r="3" fill="#f4f2ea" opacity="0.80"/><circle cx="581" cy="399" r="3" fill="#f4f2ea" opacity="0.72"/><circle cx="534" cy="146" r="2.4" fill="#f4f2ea" opacity="0.73"/><circle cx="345" cy="194" r="3" fill="#f4f2ea" opacity="0.56"/><circle cx="546" cy="155" r="5.2" fill="#f4f2ea" opacity="0.99"/><circle cx="595" cy="260" r="4.4" fill="#f4f2ea" opacity="0.90"/><circle cx="517" cy="443" r="4.4" fill="#f4f2ea" opacity="0.98"/><circle cx="540" cy="237" r="2.4" fill="#f4f2ea" opacity="0.62"/><circle cx="524" cy="396" r="3" fill="#f4f2ea" opacity="0.83"/><circle cx="418" cy="240" r="4.4" fill="#f4f2ea" opacity="0.78"/><circle cx="683" cy="371" r="4.4" fill="#f4f2ea" opacity="0.75"/><circle cx="600" cy="253" r="4.4" fill="#f4f2ea" opacity="0.82"/><circle cx="565" cy="336" r="4.4" fill="#f4f2ea" opacity="0.75"/><circle cx="454" cy="308" r="3" fill="#f4f2ea" opacity="0.79"/><circle cx="511" cy="256" r="3" fill="#f4f2ea" opacity="0.88"/><circle cx="526" cy="115" r="3" fill="#f4f2ea" opacity="0.63"/><circle cx="504" cy="442" r="2.4" fill="#f4f2ea" opacity="0.91"/><circle cx="594" cy="305" r="2.4" fill="#f4f2ea" opacity="0.87"/><circle cx="515" cy="144" r="5.2" fill="#f4f2ea" opacity="0.56"/><circle cx="368" cy="269" r="3" fill="#f4f2ea" opacity="0.58"/><circle cx="598" cy="294" r="3" fill="#f4f2ea" opacity="0.58"/><circle cx="697" cy="319" r="2.4" fill="#f4f2ea" opacity="0.91"/><circle cx="432" cy="139" r="2.4" fill="#f4f2ea" opacity="0.97"/><circle cx="531" cy="253" r="5.2" fill="#f4f2ea" opacity="0.76"/><circle cx="648" cy="317" r="5.2" fill="#f4f2ea" opacity="0.83"/><circle cx="508" cy="432" r="4.4" fill="#f4f2ea" opacity="0.72"/><circle cx="501" cy="387" r="3.6" fill="#f4f2ea" opacity="0.85"/><circle cx="503" cy="204" r="3" fill="#f4f2ea" opacity="0.86"/><circle cx="581" cy="294" r="3.6" fill="#f4f2ea" opacity="0.82"/><circle cx="601" cy="321" r="3" fill="#f4f2ea" opacity="0.88"/><circle cx="500" cy="259" r="3" fill="#f4f2ea" opacity="0.58"/><circle cx="425" cy="212" r="3.6" fill="#f4f2ea" opacity="0.76"/><circle cx="627" cy="293" r="4.4" fill="#f4f2ea" opacity="0.66"/><circle cx="554" cy="399" r="3.6" fill="#f4f2ea" opacity="0.98"/><circle cx="398" cy="78" r="4.4" fill="#f4f2ea" opacity="0.72"/><circle cx="506" cy="395" r="2.4" fill="#f4f2ea" opacity="0.72"/><circle cx="428" cy="194" r="3.6" fill="#f4f2ea" opacity="0.68"/><circle cx="547" cy="373" r="4.4" fill="#f4f2ea" opacity="0.72"/><circle cx="635" cy="324" r="3.6" fill="#f4f2ea" opacity="0.70"/><circle cx="576" cy="411" r="5.2" fill="#f4f2ea" opacity="0.85"/><circle cx="585" cy="328" r="2.4" fill="#f4f2ea" opacity="0.72"/><circle cx="535" cy="381" r="2.4" fill="#f4f2ea" opacity="0.85"/><circle cx="493" cy="138" r="5.2" fill="#f4f2ea" opacity="0.69"/><circle cx="457" cy="333" r="2.4" fill="#f4f2ea" opacity="1.00"/><circle cx="586" cy="209" r="2.4" fill="#f4f2ea" opacity="1.00"/><circle cx="354" cy="97" r="3" fill="#f4f2ea" opacity="0.78"/><circle cx="454" cy="343" r="5.2" fill="#f4f2ea" opacity="0.73"/><circle cx="583" cy="423" r="5.2" fill="#f4f2ea" opacity="0.90"/><circle cx="427" cy="388" r="4.4" fill="#f4f2ea" opacity="0.90"/><circle cx="430" cy="115" r="3.6" fill="#f4f2ea" opacity="0.98"/><circle cx="557" cy="459" r="5.2" fill="#f4f2ea" opacity="0.80"/><circle cx="483" cy="453" r="5.2" fill="#f4f2ea" opacity="0.80"/><circle cx="432" cy="135" r="5.2" fill="#f4f2ea" opacity="0.78"/><circle cx="512" cy="175" r="4.4" fill="#f4f2ea" opacity="0.76"/><circle cx="445" cy="459" r="2.4" fill="#f4f2ea" opacity="0.76"/><circle cx="538" cy="123" r="4.4" fill="#f4f2ea" opacity="0.83"/><circle cx="476" cy="450" r="2.4" fill="#f4f2ea" opacity="0.65"/><circle cx="505" cy="278" r="4.4" fill="#f4f2ea" opacity="0.60"/><circle cx="603" cy="191" r="2.4" fill="#f4f2ea" opacity="0.73"/><circle cx="524" cy="236" r="4.4" fill="#f4f2ea" opacity="0.70"/><circle cx="479" cy="243" r="3" fill="#f4f2ea" opacity="0.81"/><circle cx="623" cy="283" r="3.6" fill="#f4f2ea" opacity="0.67"/><circle cx="595" cy="362" r="4.4" fill="#f4f2ea" opacity="0.72"/><circle cx="564" cy="385" r="3.6" fill="#f4f2ea" opacity="0.93"/><circle cx="335" cy="81" r="4.4" fill="#f4f2ea" opacity="0.92"/><circle cx="568" cy="376" r="3.6" fill="#f4f2ea" opacity="0.77"/><circle cx="480" cy="130" r="2.4" fill="#f4f2ea" opacity="0.72"/><circle cx="673" cy="375" r="3.6" fill="#f4f2ea" opacity="0.98"/><circle cx="473" cy="216" r="3.6" fill="#f4f2ea" opacity="0.64"/><circle cx="582" cy="430" r="2.4" fill="#f4f2ea" opacity="0.78"/><circle cx="574" cy="424" r="3.6" fill="#f4f2ea" opacity="0.82"/><circle cx="612" cy="426" r="3.6" fill="#f4f2ea" opacity="0.73"/><circle cx="487" cy="181" r="3" fill="#f4f2ea" opacity="0.92"/><circle cx="462" cy="265" r="3.6" fill="#f4f2ea" opacity="0.84"/><circle cx="422" cy="76" r="5.2" fill="#f4f2ea" opacity="0.59"/><circle cx="389" cy="163" r="5.2" fill="#f4f2ea" opacity="0.97"/><circle cx="547" cy="417" r="4.4" fill="#f4f2ea" opacity="0.74"/><circle cx="692" cy="379" r="2.4" fill="#f4f2ea" opacity="0.63"/><circle cx="414" cy="82" r="4.4" fill="#f4f2ea" opacity="0.85"/><circle cx="893" cy="220" r="2" fill="#e8e6de" opacity="0.81"/><circle cx="1055" cy="180" r="2" fill="#e8e6de" opacity="0.74"/><circle cx="473" cy="331" r="2" fill="#e8e6de" opacity="0.86"/><circle cx="280" cy="207" r="2.6" fill="#e8e6de" opacity="0.81"/><circle cx="551" cy="34" r="4" fill="#e8e6de" opacity="0.86"/><circle cx="268" cy="336" r="4" fill="#e8e6de" opacity="0.62"/><circle cx="777" cy="195" r="4" fill="#e8e6de" opacity="0.41"/><circle cx="832" cy="95" r="3.2" fill="#e8e6de" opacity="0.46"/><circle cx="420" cy="94" r="3.2" fill="#e8e6de" opacity="0.56"/><circle cx="895" cy="328" r="4" fill="#e8e6de" opacity="0.67"/><circle cx="936" cy="181" r="2.6" fill="#e8e6de" opacity="0.61"/><circle cx="1080" cy="168" r="4" fill="#e8e6de" opacity="0.48"/><circle cx="332" cy="349" r="2" fill="#e8e6de" opacity="0.49"/><circle cx="453" cy="342" r="4" fill="#e8e6de" opacity="0.85"/><circle cx="128" cy="101" r="4" fill="#e8e6de" opacity="0.85"/><circle cx="534" cy="239" r="2.6" fill="#e8e6de" opacity="0.45"/><circle cx="705" cy="326" r="2.6" fill="#e8e6de" opacity="0.37"/><circle cx="786" cy="276" r="4" fill="#e8e6de" opacity="0.53"/><circle cx="855" cy="383" r="2" fill="#e8e6de" opacity="0.49"/><circle cx="956" cy="352" r="3.2" fill="#e8e6de" opacity="0.42"/><circle cx="855" cy="282" r="3.2" fill="#e8e6de" opacity="0.73"/><circle cx="439" cy="448" r="3.2" fill="#e8e6de" opacity="0.68"/><circle cx="175" cy="181" r="2.6" fill="#e8e6de" opacity="0.65"/><circle cx="324" cy="152" r="3.2" fill="#e8e6de" opacity="0.66"/><circle cx="333" cy="54" r="2" fill="#e8e6de" opacity="0.51"/><circle cx="349" cy="249" r="4" fill="#e8e6de" opacity="0.44"/><circle cx="694" cy="265" r="2.6" fill="#e8e6de" opacity="0.64"/><circle cx="746" cy="434" r="3.2" fill="#e8e6de" opacity="0.52"/><circle cx="504" cy="371" r="2.6" fill="#e8e6de" opacity="0.61"/><circle cx="774" cy="176" r="2.6" fill="#e8e6de" opacity="0.87"/><circle cx="586" cy="275" r="3.2" fill="#e8e6de" opacity="0.84"/><circle cx="138" cy="267" r="2" fill="#e8e6de" opacity="0.52"/><circle cx="1060" cy="108" r="3.2" fill="#e8e6de" opacity="0.52"/><circle cx="967" cy="48" r="2" fill="#e8e6de" opacity="0.43"/><circle cx="490" cy="84" r="2" fill="#e8e6de" opacity="0.59"/><circle cx="767" cy="59" r="3.2" fill="#e8e6de" opacity="0.69"/><circle cx="166" cy="83" r="2.6" fill="#e8e6de" opacity="0.39"/><circle cx="566" cy="271" r="2" fill="#e8e6de" opacity="0.42"/><circle cx="372" cy="171" r="3.2" fill="#e8e6de" opacity="0.87"/><circle cx="1032" cy="29" r="4" fill="#e8e6de" opacity="0.79"/><circle cx="994" cy="162" r="2.6" fill="#e8e6de" opacity="0.40"/><circle cx="600" cy="452" r="2" fill="#e8e6de" opacity="0.41"/><circle cx="370" cy="155" r="2" fill="#e8e6de" opacity="0.58"/><circle cx="215" cy="104" r="2" fill="#e8e6de" opacity="0.35"/><circle cx="131" cy="377" r="4" fill="#e8e6de" opacity="0.81"/><circle cx="484" cy="171" r="3.2" fill="#e8e6de" opacity="0.57"/><circle cx="994" cy="129" r="2" fill="#e8e6de" opacity="0.67"/><circle cx="607" cy="171" r="3.2" fill="#e8e6de" opacity="0.60"/><circle cx="304" cy="417" r="2.6" fill="#e8e6de" opacity="0.46"/><circle cx="280" cy="223" r="2.6" fill="#e8e6de" opacity="0.78"/><circle cx="406" cy="127" r="3.2" fill="#e8e6de" opacity="0.68"/><circle cx="657" cy="278" r="2" fill="#e8e6de" opacity="0.45"/><circle cx="302" cy="156" r="3.2" fill="#e8e6de" opacity="0.76"/><circle cx="273" cy="36" r="2.6" fill="#e8e6de" opacity="0.65"/><circle cx="142" cy="364" r="2.6" fill="#e8e6de" opacity="0.59"/><circle cx="107" cy="271" r="2.6" fill="#e8e6de" opacity="0.55"/><circle cx="431" cy="430" r="4" fill="#e8e6de" opacity="0.90"/><circle cx="496" cy="322" r="2.6" fill="#e8e6de" opacity="0.54"/><circle cx="882" cy="191" r="3.2" fill="#e8e6de" opacity="0.66"/><circle cx="1042" cy="51" r="2" fill="#e8e6de" opacity="0.38"/><circle cx="502" cy="91" r="2" fill="#e8e6de" opacity="0.46"/><circle cx="1029" cy="174" r="2.6" fill="#e8e6de" opacity="0.43"/><circle cx="803" cy="446" r="2.6" fill="#e8e6de" opacity="0.48"/><circle cx="790" cy="127" r="4" fill="#e8e6de" opacity="0.55"/><circle cx="816" cy="436" r="2.6" fill="#e8e6de" opacity="0.87"/><circle cx="135" cy="103" r="3.2" fill="#e8e6de" opacity="0.72"/><circle cx="188" cy="165" r="2" fill="#e8e6de" opacity="0.50"/><circle cx="603" cy="387" r="4" fill="#e8e6de" opacity="0.77"/><circle cx="608" cy="446" r="2" fill="#e8e6de" opacity="0.71"/><circle cx="764" cy="104" r="3.2" fill="#e8e6de" opacity="0.70"/><circle cx="169" cy="238" r="4" fill="#e8e6de" opacity="0.54"/><circle cx="1097" cy="240" r="2" fill="#e8e6de" opacity="0.45"/><circle cx="477" cy="43" r="2.6" fill="#e8e6de" opacity="0.38"/><circle cx="477" cy="390" r="2" fill="#e8e6de" opacity="0.36"/><circle cx="501" cy="453" r="2" fill="#e8e6de" opacity="0.61"/><circle cx="250" cy="27" r="3.2" fill="#e8e6de" opacity="0.88"/><circle cx="410" cy="402" r="3.2" fill="#e8e6de" opacity="0.73"/><circle cx="321" cy="354" r="2.6" fill="#e8e6de" opacity="0.55"/><circle cx="979" cy="281" r="4" fill="#e8e6de" opacity="0.59"/><circle cx="670" cy="135" r="4" fill="#e8e6de" opacity="0.48"/><circle cx="977" cy="93" r="3.2" fill="#e8e6de" opacity="0.77"/><circle cx="1031" cy="161" r="4" fill="#e8e6de" opacity="0.44"/><circle cx="1045" cy="148" r="2" fill="#e8e6de" opacity="0.70"/><circle cx="63" cy="236" r="2" fill="#e8e6de" opacity="0.62"/><circle cx="1019" cy="251" r="4" fill="#e8e6de" opacity="0.73"/><circle cx="749" cy="200" r="4" fill="#e8e6de" opacity="0.67"/><circle cx="717" cy="228" r="2" fill="#e8e6de" opacity="0.53"/><circle cx="725" cy="48" r="2.6" fill="#e8e6de" opacity="0.88"/><circle cx="351" cy="219" r="2" fill="#e8e6de" opacity="0.50"/><circle cx="113" cy="282" r="4" fill="#e8e6de" opacity="0.79"/><circle cx="325" cy="426" r="2" fill="#e8e6de" opacity="0.58"/><circle cx="637" cy="446" r="4" fill="#e8e6de" opacity="0.82"/><circle cx="218" cy="162" r="3.2" fill="#e8e6de" opacity="0.86"/><circle cx="732" cy="330" r="4" fill="#e8e6de" opacity="0.79"/><circle cx="773" cy="379" r="3.2" fill="#e8e6de" opacity="0.80"/><circle cx="893" cy="99" r="4" fill="#e8e6de" opacity="0.52"/><circle cx="314" cy="434" r="2" fill="#e8e6de" opacity="0.88"/><circle cx="744" cy="232" r="4" fill="#e8e6de" opacity="0.86"/><circle cx="730" cy="49" r="2.6" fill="#e8e6de" opacity="0.41"/><circle cx="383" cy="104" r="3.2" fill="#e8e6de" opacity="0.89"/><circle cx="708" cy="76" r="2" fill="#e8e6de" opacity="0.59"/><circle cx="484" cy="198" r="2" fill="#e8e6de" opacity="0.66"/><circle cx="572" cy="193" r="3.2" fill="#e8e6de" opacity="0.37"/><circle cx="979" cy="245" r="2.6" fill="#e8e6de" opacity="0.48"/><circle cx="703" cy="73" r="2.6" fill="#e8e6de" opacity="0.63"/><circle cx="389" cy="143" r="2.6" fill="#e8e6de" opacity="0.36"/><circle cx="338" cy="367" r="2" fill="#e8e6de" opacity="0.53"/><circle cx="362" cy="448" r="3.2" fill="#e8e6de" opacity="0.88"/><circle cx="865" cy="170" r="3.2" fill="#e8e6de" opacity="0.47"/><circle cx="1091" cy="50" r="2" fill="#e8e6de" opacity="0.82"/><circle cx="617" cy="233" r="2.6" fill="#e8e6de" opacity="0.51"/><circle cx="1030" cy="184" r="4" fill="#e8e6de" opacity="0.53"/><circle cx="133" cy="43" r="3.2" fill="#e8e6de" opacity="0.51"/><circle cx="613" cy="117" r="2.6" fill="#e8e6de" opacity="0.78"/><circle cx="1013" cy="56" r="4" fill="#e8e6de" opacity="0.59"/><circle cx="773" cy="363" r="3.2" fill="#e8e6de" opacity="0.67"/><circle cx="496" cy="26" r="2" fill="#e8e6de" opacity="0.45"/><circle cx="857" cy="46" r="2.6" fill="#e8e6de" opacity="0.45"/><circle cx="668" cy="441" r="3.2" fill="#e8e6de" opacity="0.77"/><circle cx="734" cy="338" r="4" fill="#e8e6de" opacity="0.38"/><circle cx="262" cy="134" r="2" fill="#e8e6de" opacity="0.65"/><circle cx="62" cy="229" r="4" fill="#e8e6de" opacity="0.83"/><circle cx="876" cy="130" r="2.6" fill="#e8e6de" opacity="0.72"/><circle cx="700" cy="41" r="2.6" fill="#e8e6de" opacity="0.48"/><circle cx="653" cy="201" r="4" fill="#e8e6de" opacity="0.39"/><circle cx="467" cy="231" r="2" fill="#e8e6de" opacity="0.46"/><circle cx="315" cy="354" r="3.2" fill="#e8e6de" opacity="0.86"/><circle cx="724" cy="171" r="2" fill="#e8e6de" opacity="0.47"/><circle cx="960" cy="249" r="4" fill="#e8e6de" opacity="0.76"/><circle cx="965" cy="106" r="2" fill="#e8e6de" opacity="0.79"/><circle cx="796" cy="222" r="3.2" fill="#e8e6de" opacity="0.71"/><circle cx="273" cy="216" r="2.6" fill="#e8e6de" opacity="0.69"/><circle cx="488" cy="157" r="2" fill="#e8e6de" opacity="0.60"/><circle cx="552" cy="416" r="4" fill="#e8e6de" opacity="0.71"/><circle cx="765" cy="247" r="4" fill="#e8e6de" opacity="0.84"/><circle cx="138" cy="122" r="2.6" fill="#e8e6de" opacity="0.75"/><circle cx="756" cy="216" r="3.2" fill="#e8e6de" opacity="0.47"/><circle cx="861" cy="263" r="3.2" fill="#e8e6de" opacity="0.66"/><circle cx="467" cy="398" r="3.2" fill="#e8e6de" opacity="0.77"/><circle cx="330" cy="296" r="2.6" fill="#e8e6de" opacity="0.83"/><circle cx="372" cy="450" r="4" fill="#e8e6de" opacity="0.38"/><circle cx="666" cy="390" r="4" fill="#e8e6de" opacity="0.39"/><circle cx="413" cy="184" r="4" fill="#e8e6de" opacity="0.49"/><circle cx="793" cy="273" r="2.6" fill="#e8e6de" opacity="0.89"/><circle cx="202" cy="371" r="3.2" fill="#e8e6de" opacity="0.80"/><circle cx="589" cy="30" r="3.2" fill="#e8e6de" opacity="0.64"/><circle cx="575" cy="95" r="4" fill="#e8e6de" opacity="0.71"/><circle cx="361" cy="383" r="4" fill="#e8e6de" opacity="0.72"/><circle cx="162" cy="42" r="4" fill="#e8e6de" opacity="0.64"/><circle cx="1052" cy="179" r="2" fill="#e8e6de" opacity="0.39"/><circle cx="372" cy="331" r="3.2" fill="#e8e6de" opacity="0.81"/><circle cx="455" cy="143" r="3.2" fill="#e8e6de" opacity="0.67"/><circle cx="594" cy="263" r="4" fill="#e8e6de" opacity="0.71"/><circle cx="215" cy="160" r="2.6" fill="#e8e6de" opacity="0.46"/><circle cx="722" cy="32" r="2.6" fill="#e8e6de" opacity="0.50"/><circle cx="569" cy="333" r="2" fill="#e8e6de" opacity="0.72"/><circle cx="363" cy="169" r="3.2" fill="#e8e6de" opacity="0.73"/><circle cx="411" cy="415" r="2.6" fill="#e8e6de" opacity="0.82"/><circle cx="789" cy="32" r="3.2" fill="#e8e6de" opacity="0.69"/><circle cx="1086" cy="121" r="2.6" fill="#e8e6de" opacity="0.68"/><circle cx="392" cy="311" r="3.2" fill="#e8e6de" opacity="0.78"/><circle cx="982" cy="99" r="2.6" fill="#e8e6de" opacity="0.85"/><circle cx="764" cy="97" r="3.2" fill="#e8e6de" opacity="0.68"/><circle cx="422" cy="366" r="3.2" fill="#e8e6de" opacity="0.83"/><circle cx="296" cy="184" r="2.6" fill="#e8e6de" opacity="0.62"/><circle cx="756" cy="403" r="2" fill="#e8e6de" opacity="0.77"/><circle cx="768" cy="443" r="2" fill="#e8e6de" opacity="0.40"/><circle cx="106" cy="179" r="4" fill="#e8e6de" opacity="0.68"/><circle cx="957" cy="48" r="2" fill="#e8e6de" opacity="0.58"/><circle cx="1005" cy="297" r="3.2" fill="#e8e6de" opacity="0.37"/></g>
    <!-- back wall -->
    <polygon points="255,455 815,470 815,790 255,790" fill="#100c0a"/>
    <g fill="#46241a">
      <rect x="400" y="480" width="22" height="290"/><rect x="640" y="485" width="22" height="290"/>
      <rect x="492" y="540" width="9" height="230"/><rect x="572" y="540" width="9" height="230"/>
      <rect x="255" y="536" width="560" height="11"/><rect x="255" y="700" width="560" height="8" opacity="0.7"/>
    </g>
    <rect x="262" y="712" width="150" height="58" fill="#75603f"/>
    <rect x="655" y="712" width="160" height="58" fill="#6f5d45"/>
    <rect x="412" y="712" width="243" height="62" fill="#1d1a18"/>
    <!-- left structure -->
    <polygon points="0,300 255,455 255,800 0,880" fill="#15100d"/>
    <polygon points="30,335 255,455 255,478 150,432 30,392" fill="#866642"/>
    <polygon points="150,405 255,458 255,478 150,432" fill="#b48e62"/>
    <rect x="133" y="432" width="24" height="375" fill="#94724c"/>
    <rect x="224" y="468" width="32" height="300" fill="#b89264"/>
    <rect x="70" y="410" width="26" height="400" fill="#4a2618"/>
    <rect x="182" y="470" width="16" height="310" fill="#4a2618"/>
    <rect x="157" y="700" width="68" height="70" fill="#6e5438"/>
    <!-- right wall -->
    <polygon points="815,470 1000,320 1000,835 815,748" fill="url(#rwallG)"/>
    <polygon points="1000,320 1160,190 1160,900 1000,835" fill="#17120e"/>
    <rect x="1000" y="310" width="42" height="530" fill="#4c2c1e"/>
    <polygon points="1042,740 1110,750 1110,850 1042,835" fill="#8a745a"/>
    <!-- floors -->
    <polygon points="40,830 80,800 400,770 412,782 150,930 40,900" fill="#6f675b"/>
    <polygon points="150,930 400,772 414,790 232,998" fill="#1c1a17"/>
    <polygon points="655,772 815,750 1000,835 1160,900 1160,1000 930,998" fill="#2a2521"/>
    <polygon points="690,772 815,752 960,820 780,812" fill="#7c715e"/>
    <!-- wall lights -->
    <g fill="#fff4d6">
      <ellipse cx="343" cy="738" rx="9" ry="13"/><ellipse cx="722" cy="738" rx="10" ry="14"/>
      <ellipse cx="835" cy="748" rx="5" ry="11"/><ellipse cx="865" cy="757" rx="5" ry="11"/><ellipse cx="897" cy="766" rx="5" ry="12"/><ellipse cx="957" cy="780" rx="6" ry="14"/>
      <ellipse cx="178" cy="742" rx="6" ry="11"/><circle cx="627" cy="718" r="6"/>
    </g>
    <ellipse cx="343" cy="745" rx="40" ry="30" fill="#d8b888" opacity="0.45" filter="url(#bz)"/>
    <ellipse cx="722" cy="745" rx="44" ry="30" fill="#d8b888" opacity="0.45" filter="url(#bz)"/>
    <!-- pool water -->
    <polygon points="412,776 658,776 930,998 1000,1200 150,1200 232,998" fill="url(#poolG)"/>
    <polygon points="412,776 658,776 700,810 380,812" fill="#63c4a4" opacity="0.25"/>
    <polygon points="232,998 300,915 330,925 320,1130 200,1130" fill="#3f7f70" opacity="0.8"/>
    <polygon points="930,998 800,890 820,1130 990,1130" fill="#184e44" opacity="0.6"/>
    <ellipse cx="560" cy="900" rx="170" ry="90" fill="#2f9a7c" opacity="0.35" filter="url(#bz)"/>
   </g>
  </g>
</g>
<!-- ============ REMOTE ============ -->
<g id="remote">
  <defs>
    <linearGradient id="remG" x1="0" y1="0" x2="0" y2="1">
      <stop offset="0" stop-color="#575a61"/>
      <stop offset="0.4" stop-color="#414349"/>
      <stop offset="0.75" stop-color="#333439"/>
      <stop offset="0.93" stop-color="#313237"/>
      <stop offset="1" stop-color="#3b3c42"/>
    </linearGradient>
    <radialGradient id="wb" cx="0.5" cy="0.4" r="0.6">
      <stop offset="0" stop-color="#fbfbfc"/><stop offset="0.65" stop-color="#e6e6e9"/><stop offset="1" stop-color="#bfc0c6"/>
    </radialGradient>
  </defs>
  <rect x="680.5" y="64" width="8" height="6" rx="2" fill="#1d1d1f"/>
  <path d="M589.5 67 H783 Q793 67 793.1 77 L796 408.5 Q796 419 785.5 419 H588.5 Q578.2 419 578.3 408.5 L579.6 77 Q579.6 67 589.5 67Z" fill="#1b1b1d"/>
  <path d="M590.5 70.5 H782 Q789.6 70.5 789.7 78 L792.3 407 Q792.3 414.5 784.5 414.5 H589.5 Q581.9 414.5 582 407 L583 78 Q583 70.5 590.5 70.5Z" fill="url(#remG)"/>
  <rect x="595.5" y="76" width="87.5" height="36" rx="9" fill="#666a72" opacity="0.75"/>
  <rect x="686" y="76" width="88" height="36" rx="9" fill="#666a72" opacity="0.75"/>
  <!-- side column recess -->
  <defs><linearGradient id="recG" x1="0" y1="0" x2="0" y2="1"><stop offset="0" stop-color="#2f3137" stop-opacity="0.55"/><stop offset="0.6" stop-color="#2f3137" stop-opacity="0.3"/><stop offset="1" stop-color="#2f3137" stop-opacity="0"/></linearGradient></defs>
  <path d="M740 155.5 H777 V370 H733 V162 Q733 155.5 740 155.5Z" fill="url(#recG)"/>
  <!-- white panel -->
  <path d="M602.3 115 H768 Q776 115 776 123 V146 Q776 153.5 768 153.5 H739 Q731.5 153.5 731.5 161 V273 Q731.5 281 723.5 281 H602.3 Q594.3 281 594.3 273 V123 Q594.3 115 602.3 115Z" fill="#f3f3f5"/>
  <path d="M605 118 H766 Q773 118 773 125 V144 Q773 150.7 766 150.7 H737 Q728.6 150.7 728.6 159 V271 Q728.6 278 721.6 278 H604 Q597 278 597 271 V126 Q597 118 605 118Z" fill="none" stroke="#2493d6" stroke-width="1.9" stroke-dasharray="7.6 4.4"/>
  <!-- row1 -->
  <g>
    <circle cx="616.6" cy="95.5" r="17" fill="#2b2c30" opacity="0.35"/>
    <circle cx="616.6" cy="94.5" r="16.6" fill="url(#wb)"/>
    <circle cx="616.6" cy="94.5" r="14.4" fill="none" stroke="#242428" stroke-width="1.2"/>
    <circle cx="662.8" cy="95" r="17" fill="#2b2c30" opacity="0.35"/>
    <circle cx="662.8" cy="94" r="16.6" fill="url(#wb)"/>
    <circle cx="662.8" cy="94" r="14.4" fill="none" stroke="#242428" stroke-width="1.2"/>
    <g stroke="#38383c" stroke-width="1.25" fill="none" stroke-linecap="round" stroke-linejoin="round">
      <circle cx="616.8" cy="97.4" r="4.2"/><path d="M621.10 97.40L624.00 97.40M619.84 100.44L621.89 102.49M616.80 101.70L616.80 104.60M613.76 100.44L611.71 102.49M612.50 97.40L609.60 97.40M613.76 94.36L611.71 92.31M616.80 93.10L616.80 90.20M619.84 94.36L621.89 92.31"/>
      <path d="M611.6 87.6 Q616.8 84 622 87.6M611.4 85.6L611.6 87.6L613.6 87.4M622.2 85.6L622 87.6L620 87.4M616.8 86V88"/>
      <circle cx="663" cy="91.2" r="4.2"/><path d="M667.30 91.20L670.20 91.20M666.04 94.24L668.09 96.29M663.00 95.50L663.00 98.40M659.96 94.24L657.91 96.29M658.70 91.20L655.80 91.20M659.96 88.16L657.91 86.11M663.00 86.90L663.00 84.00M666.04 88.16L668.09 86.11"/>
      <path d="M657.8 101 Q663 104.6 668.2 101M657.6 103L657.8 101L659.8 101.2M668.4 103L668.2 101L666.2 101.2M663 102.6V100.6"/>
    </g>
    <circle cx="708.3" cy="95" r="17" fill="#111" opacity="0.4"/>
    <circle cx="708.3" cy="94" r="16.4" fill="#232326"/>
    <circle cx="708.3" cy="94" r="13.8" fill="#2d2d31" stroke="#f0f0f0" stroke-width="1"/>
    <text x="708.3" y="98.1" text-anchor="middle" font-size="11.5" font-weight="bold" fill="#f4f4f4" textLength="23.5" lengthAdjust="spacingAndGlyphs">OFF</text>
    <circle cx="753.6" cy="95" r="17" fill="#111" opacity="0.35"/>
    <circle cx="753.6" cy="94" r="16.4" fill="#9c2b25"/>
    <circle cx="753.6" cy="94" r="13.8" fill="#b4372f" stroke="#ffc9c4" stroke-width="1"/>
    <text x="753.6" y="98.2" text-anchor="middle" font-size="11.8" font-weight="bold" fill="#fbeeee" textLength="18.5" lengthAdjust="spacingAndGlyphs">ON</text>
  </g>
  <circle cx="616.8" cy="136.2" r="17.6" fill="#7d231f" opacity="0.35" filter="url(#b05)"/><circle cx="616.8" cy="135.6" r="16.9" fill="#7d231f"/><circle cx="616.8" cy="135.6" r="14.5" fill="#ae3b33" stroke="#ffb9b1" stroke-width="1.2"/><ellipse cx="616.8" cy="131.6" rx="9" ry="6" fill="#fff" opacity="0.10"/><text x="616.8" y="141.2" text-anchor="middle" font-size="16" font-weight="bold" fill="#7c2c29">R</text><circle cx="663.2" cy="136.5" r="17.6" fill="#1f8a3f" opacity="0.35" filter="url(#b05)"/><circle cx="663.2" cy="135.9" r="16.9" fill="#1f8a3f"/><circle cx="663.2" cy="135.9" r="14.5" fill="#30a44f" stroke="#a6f5bb" stroke-width="1.2"/><ellipse cx="663.2" cy="131.9" rx="9" ry="6" fill="#fff" opacity="0.10"/><text x="663.2" y="141.5" text-anchor="middle" font-size="16" font-weight="bold" fill="#2a6d3b">G</text><circle cx="708.5" cy="136.4" r="17.6" fill="#1d47b2" opacity="0.35" filter="url(#b05)"/><circle cx="708.5" cy="135.8" r="16.9" fill="#1d47b2"/><circle cx="708.5" cy="135.8" r="14.5" fill="#2b63d6" stroke="#a8ccff" stroke-width="1.2"/><ellipse cx="708.5" cy="131.8" rx="9" ry="6" fill="#fff" opacity="0.10"/><text x="708.5" y="141.4" text-anchor="middle" font-size="16" font-weight="bold" fill="#3f5fae">B</text><circle cx="753.5" cy="136.0" r="17.6" fill="#56575b" opacity="0.35" filter="url(#b05)"/><circle cx="753.5" cy="135.4" r="16.9" fill="#56575b"/><circle cx="753.5" cy="135.4" r="14.5" fill="#6d6e72" stroke="#d6d6da" stroke-width="1.2"/><ellipse cx="753.5" cy="131.4" rx="9" ry="6" fill="#fff" opacity="0.10"/><text x="753.5" y="141.0" text-anchor="middle" font-size="16" font-weight="bold" fill="#ffffff">W</text><circle cx="616.3" cy="177.79999999999998" r="17.6" fill="#f3c63a" opacity="0.35" filter="url(#b05)"/><circle cx="616.3" cy="177.2" r="16.9" fill="#f3c63a"/><circle cx="616.3" cy="177.2" r="14.5" fill="#f6c417" stroke="#fbdc6e" stroke-width="1.2"/><ellipse cx="616.3" cy="173.2" rx="9" ry="6" fill="#fff" opacity="0.10"/><circle cx="662.5" cy="177.79999999999998" r="17.6" fill="#2a333e" opacity="0.35" filter="url(#b05)"/><circle cx="662.5" cy="177.2" r="16.9" fill="#2a333e"/><circle cx="662.5" cy="177.2" r="14.5" fill="#3c4957" stroke="#d3dade" stroke-width="1.2"/><ellipse cx="662.5" cy="173.2" rx="9" ry="6" fill="#fff" opacity="0.10"/><circle cx="708.5" cy="176.9" r="17.6" fill="#d522b8" opacity="0.35" filter="url(#b05)"/><circle cx="708.5" cy="176.3" r="16.9" fill="#d522b8"/><circle cx="708.5" cy="176.3" r="14.5" fill="#ea22cc" stroke="#ffa9f1" stroke-width="1.2"/><ellipse cx="708.5" cy="172.3" rx="9" ry="6" fill="#fff" opacity="0.10"/><circle cx="616.2" cy="219.0" r="17.6" fill="#f3ef62" opacity="0.35" filter="url(#b05)"/><circle cx="616.2" cy="218.4" r="16.9" fill="#f3ef62"/><circle cx="616.2" cy="218.4" r="14.5" fill="#f5ef3a" stroke="#f9f58c" stroke-width="1.2"/><ellipse cx="616.2" cy="214.4" rx="9" ry="6" fill="#fff" opacity="0.10"/><circle cx="662.8" cy="218.6" r="17.6" fill="#2585b6" opacity="0.35" filter="url(#b05)"/><circle cx="662.8" cy="218.0" r="16.9" fill="#2585b6"/><circle cx="662.8" cy="218.0" r="14.5" fill="#3394c6" stroke="#c3e8ff" stroke-width="1.2"/><ellipse cx="662.8" cy="214.0" rx="9" ry="6" fill="#fff" opacity="0.10"/><circle cx="709.3" cy="218.6" r="17.6" fill="#7a245e" opacity="0.35" filter="url(#b05)"/><circle cx="709.3" cy="218.0" r="16.9" fill="#7a245e"/><circle cx="709.3" cy="218.0" r="14.5" fill="#8e2d6f" stroke="#f3b4dc" stroke-width="1.2"/><ellipse cx="709.3" cy="214.0" rx="9" ry="6" fill="#fff" opacity="0.10"/><circle cx="616.2" cy="260.0" r="17.6" fill="#e99a20" opacity="0.35" filter="url(#b05)"/><circle cx="616.2" cy="259.4" r="16.9" fill="#e99a20"/><circle cx="616.2" cy="259.4" r="14.5" fill="#f2a322" stroke="#ffdb8e" stroke-width="1.2"/><ellipse cx="616.2" cy="255.39999999999998" rx="9" ry="6" fill="#fff" opacity="0.10"/><circle cx="662.8" cy="260.5" r="17.6" fill="#22374a" opacity="0.35" filter="url(#b05)"/><circle cx="662.8" cy="259.9" r="16.9" fill="#22374a"/><circle cx="662.8" cy="259.9" r="14.5" fill="#3d607f" stroke="#c9d8e4" stroke-width="1.2"/><ellipse cx="662.8" cy="255.89999999999998" rx="9" ry="6" fill="#fff" opacity="0.10"/><circle cx="709.0" cy="260.0" r="17.6" fill="#9a2887" opacity="0.35" filter="url(#b05)"/><circle cx="709.0" cy="259.4" r="16.9" fill="#9a2887"/><circle cx="709.0" cy="259.4" r="14.5" fill="#af3099" stroke="#f7b8ea" stroke-width="1.2"/><ellipse cx="709.0" cy="255.39999999999998" rx="9" ry="6" fill="#fff" opacity="0.10"/><circle cx="754.4" cy="176.9" r="18.8" fill="#8e9099" opacity="0.4" filter="url(#b1)"/><circle cx="754.4" cy="176.3" r="17.1" fill="url(#wb)"/><text x="754.4" y="179.90" text-anchor="middle" font-size="10" font-weight="bold" fill="#222326" textLength="25" lengthAdjust="spacingAndGlyphs">JUMP3</text><circle cx="754.7" cy="218.6" r="18.8" fill="#8e9099" opacity="0.4" filter="url(#b1)"/><circle cx="754.7" cy="218.0" r="17.1" fill="url(#wb)"/><text x="754.7" y="221.60" text-anchor="middle" font-size="10" font-weight="bold" fill="#222326" textLength="25" lengthAdjust="spacingAndGlyphs">JUMP7</text><circle cx="755.1" cy="260.6" r="18.8" fill="#8e9099" opacity="0.4" filter="url(#b1)"/><circle cx="755.1" cy="260.0" r="17.1" fill="url(#wb)"/><text x="755.1" y="263.60" text-anchor="middle" font-size="10" font-weight="bold" fill="#222326" textLength="26.4" lengthAdjust="spacingAndGlyphs">FADE3</text><circle cx="755.1" cy="303.0" r="18.8" fill="#8e9099" opacity="0.4" filter="url(#b1)"/><circle cx="755.1" cy="302.4" r="17.1" fill="url(#wb)"/><text x="755.1" y="306.00" text-anchor="middle" font-size="10" font-weight="bold" fill="#222326" textLength="26.4" lengthAdjust="spacingAndGlyphs">FADE7</text><circle cx="756.2" cy="345.20000000000005" r="18.8" fill="#8e9099" opacity="0.4" filter="url(#b1)"/><circle cx="756.2" cy="344.6" r="17.1" fill="url(#wb)"/><text x="756.2" y="348.38" text-anchor="middle" font-size="10.5" font-weight="bold" fill="#222326" textLength="26" lengthAdjust="spacingAndGlyphs">FLASH</text><circle cx="616.7" cy="303.40000000000003" r="18.8" fill="#8e9099" opacity="0.4" filter="url(#b1)"/><circle cx="616.7" cy="302.8" r="17.1" fill="url(#wb)"/><text x="616.7" y="301.40" text-anchor="middle" font-size="8" font-weight="bold" fill="#222326" textLength="25.5" lengthAdjust="spacingAndGlyphs">MOTOR</text><text x="616.7" y="310.36" text-anchor="middle" font-size="8" font-weight="bold" fill="#222326" textLength="27" lengthAdjust="spacingAndGlyphs">ON/OFF</text><circle cx="662.8" cy="303.40000000000003" r="18.8" fill="#8e9099" opacity="0.4" filter="url(#b1)"/><circle cx="662.8" cy="302.8" r="17.1" fill="url(#wb)"/><text x="662.8" y="301.40" text-anchor="middle" font-size="8" font-weight="bold" fill="#222326" textLength="25.5" lengthAdjust="spacingAndGlyphs">MOTOR</text><text x="662.8" y="310.36" text-anchor="middle" font-size="8" font-weight="bold" fill="#222326" textLength="27" lengthAdjust="spacingAndGlyphs">SPEED-</text><circle cx="708.4" cy="303.0" r="18.8" fill="#8e9099" opacity="0.4" filter="url(#b1)"/><circle cx="708.4" cy="302.4" r="17.1" fill="url(#wb)"/><text x="708.4" y="301.00" text-anchor="middle" font-size="8" font-weight="bold" fill="#222326" textLength="25.5" lengthAdjust="spacingAndGlyphs">MOTOR</text><text x="708.4" y="309.96" text-anchor="middle" font-size="8" font-weight="bold" fill="#222326" textLength="27.5" lengthAdjust="spacingAndGlyphs">SPEED+</text><circle cx="616.7" cy="346.6" r="18.8" fill="#8e9099" opacity="0.4" filter="url(#b1)"/><circle cx="616.7" cy="346.0" r="17.1" fill="url(#wb)"/><text x="616.7" y="344.44" text-anchor="middle" font-size="8.8" font-weight="bold" fill="#222326" textLength="27" lengthAdjust="spacingAndGlyphs">MUSIC</text><text x="616.7" y="354.30" text-anchor="middle" font-size="8.8" font-weight="bold" fill="#222326" textLength="11.5" lengthAdjust="spacingAndGlyphs">ON</text><circle cx="663.3" cy="346.20000000000005" r="18.8" fill="#8e9099" opacity="0.4" filter="url(#b1)"/><circle cx="663.3" cy="345.6" r="17.1" fill="url(#wb)"/><text x="663.3" y="344.04" text-anchor="middle" font-size="8.8" font-weight="bold" fill="#222326" textLength="27" lengthAdjust="spacingAndGlyphs">MUSIC</text><text x="663.3" y="353.90" text-anchor="middle" font-size="8.8" font-weight="bold" fill="#222326" textLength="16" lengthAdjust="spacingAndGlyphs">OFF</text><circle cx="709.7" cy="345.6" r="18.8" fill="#8e9099" opacity="0.4" filter="url(#b1)"/><circle cx="709.7" cy="345.0" r="17.1" fill="url(#wb)"/><text x="709.7" y="348.24" text-anchor="middle" font-size="9" font-weight="bold" fill="#222326" textLength="27.7" lengthAdjust="spacingAndGlyphs">BREATH</text>
</g>
<!-- ============ CALLOUT LINES ============ -->
<g id="callouts"><g fill="none" stroke="#1d98dc" stroke-width="1.9"><path d="M473.6 12.2 H662.8 V72.5"/><path d="M473.6 110.8 H616.2"/><path d="M473.6 221.5 H591.6"/><path d="M473.6 285.2 H615.4"/><path d="M471.5 325.5 H709.8"/><path d="M473.5 368.5 H615.4"/><path d="M472.4 466.8 H663.3 V367"/><path d="M710.8 367.4 V465.8 H900.4"/><path d="M710.3 71.7 V12.8 H902"/><path d="M755.3 110.6 H912"/><path d="M755.6 153.9 H891.6"/><path d="M755.1 198.2 H891.6"/><path d="M756.4 239.2 H892"/><path d="M756.4 281.3 H892"/><path d="M756.4 324.8 H892"/><path d="M756.4 363.3 H889.8"/></g><g fill="#1d98dc"><circle cx="662.8" cy="72.5" r="3.9"/><circle cx="616.2" cy="110.6" r="3.9"/><circle cx="591.6" cy="221.5" r="3.9"/><circle cx="615.4" cy="285.6" r="3.9"/><circle cx="663.3" cy="324.5" r="3.9"/><circle cx="709.8" cy="324.2" r="3.9"/><circle cx="615.4" cy="367.2" r="3.9"/><circle cx="663.3" cy="367" r="3.9"/><circle cx="710.8" cy="367.4" r="3.9"/><circle cx="710.3" cy="71.9" r="3.9"/><circle cx="755.3" cy="109.8" r="3.9"/><circle cx="755.6" cy="153.2" r="3.9"/><circle cx="755.1" cy="197.8" r="3.9"/><circle cx="756.4" cy="239.6" r="3.9"/><circle cx="756.4" cy="280.6" r="3.9"/><circle cx="756.4" cy="324.1" r="3.9"/><circle cx="756.4" cy="363" r="3.9"/></g></g>
<!-- ============ BACK OF REMOTE + BATTERY ============ -->
<g id="back">
  <defs>
    <linearGradient id="backG" x1="0" y1="1" x2="1" y2="0">
      <stop offset="0" stop-color="#3b3b3b"/>
      <stop offset="0.5" stop-color="#4a4a4a"/>
      <stop offset="1" stop-color="#5a5a5a"/>
    </linearGradient>
    <clipPath id="cBat"><circle cx="1062.4" cy="828" r="45"/></clipPath>
  </defs>
  <path d="M874.5 622 H999.6 Q1006.6 622 1006.6 629 L1005 843.5 Q1005 850.6 998 850.6 H874.5 Q867.6 850.6 867.6 843.5 V629 Q867.6 622 874.5 622Z" fill="#232324"/>
  <path d="M875.5 624.6 H998.5 Q1003.8 624.6 1003.8 630 L1002.3 842.5 Q1002.3 847.8 997 847.8 H875.5 Q870.3 847.8 870.3 842.5 V630 Q870.3 624.6 875.5 624.6Z" fill="url(#backG)"/>
  <g fill="none" stroke="#2b2b2b" stroke-width="0.9" opacity="0.9">
    <rect x="923.7" y="725.3" width="23.6" height="30" rx="3"/>
    <path d="M928 731 L943 748 M943 731 L928 748 M930 751 H941"/>
    <rect x="893.5" y="759.6" width="85" height="53.5"/>
    <path d="M901 764 H917 Q919 764 919 767 V805 Q919 808 916 808 H903 Q900 808 901 804 Q905 795 901 786 Q898 776 901 764Z" fill="#3f3f3f"/>
    <circle cx="933.5" cy="784.3" r="10.5" fill="#3f3f3f"/>
    <rect x="921.5" y="772" width="25" height="24" rx="3"/>
    <path d="M950 792 q4 2 3 8 M955 778 h7 M955 783 h6 M957 803 h12 M926 767.5 h20"/>
    <rect x="906.7" y="819" width="58" height="12.8"/>
  </g>
  <text x="938" y="828.6" text-anchor="middle" font-size="7.4" fill="#2c2c2c" letter-spacing="0.7">▼ RELEASE</text>
  <rect x="905.5" y="840.6" width="60" height="10" fill="#2a2a2a"/>
  <rect x="905.5" y="841.2" width="60" height="2.5" fill="#e0e0e0"/>
  <rect x="905.5" y="843.7" width="60" height="2.6" fill="#808080"/>
  <g fill="#262626"><circle cx="886" cy="639.6" r="1"/><circle cx="886" cy="829.5" r="1"/><circle cx="985" cy="832.8" r="1"/></g>
  <!-- arrow -->
  <path d="M953.1 851.7 C957.8 865.8 973.8 872.4 991.7 864.9 L987 861.7 L1006.7 853.6 L1006.7 871.4 L1000.5 869 C985.1 884.6 957.8 882.7 953.1 851.7Z" fill="#1e9ae6"/>
  <!-- battery circle -->
  <circle cx="1062.4" cy="828" r="45.5" fill="#fff" stroke="#5a5a5a" stroke-width="1.2"/>
  <g clip-path="url(#cBat)">
   <g transform="translate(1010,775) scale(0.11074)">
    <polygon points="95,385 490,275 520,255 575,250 595,290 700,375 795,465 838,548 832,612 800,616 775,590 520,662 522,712 470,722 330,655 100,440" fill="#2a2a2c"/>
    <polygon points="95,385 490,275 520,255 540,262 520,300 130,410" fill="#3d3d41"/>
    <polygon points="100,440 130,410 350,610 520,662 522,712 470,722 330,655" fill="#1d1d1f"/>
    <rect x="520" y="240" width="60" height="34" rx="8" fill="#1b1b1d"/>
    <ellipse cx="531" cy="524" rx="246" ry="128" fill="#8c8c8c" transform="rotate(-2 531 524)"/>
    <ellipse cx="531" cy="519" rx="246" ry="128" fill="#f1f1f1" transform="rotate(-2 531 519)"/>
    <ellipse cx="530" cy="512" rx="243" ry="123" fill="#dadada" transform="rotate(-2 530 512)"/>
    <path d="M286 500 Q300 590 440 650 L520 664 L522 712 L470 722 L330 655 L180 520Z" fill="#232325"/>
    <path d="M292 520 Q330 610 470 640 L520 660" fill="none" stroke="#e9e9e9" stroke-width="7"/>
    <path d="M770 470 Q800 520 790 585 L800 616 L832 612 L838 548 Q820 500 795 465Z" fill="#222224"/>
   </g>
  </g>
  <!-- ideographic comma substitute -->
  <path d="M1070.8 914.6 L1075.2 918" stroke="#1a1a1a" stroke-width="1.3" stroke-linecap="round"/>
</g>
<!-- ============ LEGEND ICONS ============ -->
<g id="icons">
  <circle cx="263" cy="569.7" r="23.3" fill="#fff" stroke="#8e8e8e" stroke-width="1.6"/>
  <text x="263.2" y="570" text-anchor="middle" font-size="10" font-weight="bold" fill="#262626" textLength="37.2" lengthAdjust="spacing">MUSIC</text>
  <text x="263.2" y="582.8" text-anchor="middle" font-size="10" font-weight="bold" fill="#262626" textLength="15.8" lengthAdjust="spacing">ON</text>
  <circle cx="263" cy="643.1" r="23.3" fill="#fff" stroke="#8e8e8e" stroke-width="1.6"/>
  <text x="263.2" y="643.6" text-anchor="middle" font-size="10" font-weight="bold" fill="#262626" textLength="37.2" lengthAdjust="spacing">MUSIC</text>
  <text x="263.2" y="656.2" text-anchor="middle" font-size="10" font-weight="bold" fill="#262626" textLength="21.8" lengthAdjust="spacing">OFF</text>
  <circle cx="262.2" cy="723.2" r="23.3" fill="#fff" stroke="#484848" stroke-width="1.5"/>
  <g stroke="#303030" stroke-width="1.5" fill="none" stroke-linecap="round" stroke-linejoin="round">
    <circle cx="262.3" cy="727" r="6"/><path d="M268.40 727.00L272.50 727.00M266.61 731.31L269.51 734.21M262.30 733.10L262.30 737.20M257.99 731.31L255.09 734.21M256.20 727.00L252.10 727.00M257.99 722.69L255.09 719.79M262.30 720.90L262.30 716.80M266.61 722.69L269.51 719.79"/>
    <path d="M254.4 713.6 Q262.3 707.4 270.2 713.6M254.2 710.8L254.4 713.6L257.2 713.2M270.4 710.8L270.2 713.6L267.4 713.2M262.3 710.6V714"/>
  </g>
  <circle cx="262.8" cy="864.6" r="23.4" fill="#fff" stroke="#484848" stroke-width="1.5"/>
  <g stroke="#303030" stroke-width="1.5" fill="none" stroke-linecap="round" stroke-linejoin="round">
    <circle cx="262.5" cy="861.6" r="6"/><path d="M268.60 861.60L272.70 861.60M266.81 865.91L269.71 868.81M262.50 867.70L262.50 871.80M258.19 865.91L255.29 868.81M256.40 861.60L252.30 861.60M258.19 857.29L255.29 854.39M262.50 855.50L262.50 851.40M266.81 857.29L269.71 854.39"/>
    <path d="M254.6 875.2 Q262.5 881.4 270.4 875.2M254.4 878L254.6 875.2L257.4 875.6M270.6 878L270.4 875.2L267.6 875.6M262.5 878.2V874.8"/>
  </g>
</g>
</svg>
<div class="t lab" style="left:268.8px;top:2.20px;font-size:19.3px;letter-spacing:0.86px">speed-/bright-/voice-</div>
<div class="t lab" style="left:255.0px;top:99.81px;font-size:19.3px;letter-spacing:0.83px">speed+/bright+/voice+</div>
<div class="t lab" style="left:361.2px;top:212.81px;font-size:19.3px;letter-spacing:0.82px">static color</div>
<div class="t lab" style="left:335.7px;top:277.92px;font-size:19.3px;letter-spacing:1.15px">motor on/off</div>
<div class="t lab" style="left:202.5px;top:318.70px;font-size:19.3px;letter-spacing:1.09px">motor speed-/motor speed+</div>
<div class="t lab" style="left:381.7px;top:360.61px;font-size:19.3px;letter-spacing:0.74px">voice on</div>
<div class="t lab" style="left:381.7px;top:457.61px;font-size:19.3px;letter-spacing:0.92px">voice off</div>
<div class="t lab" style="left:915.5px;top:0.81px;font-size:19.3px;letter-spacing:0.65px">OFF</div>
<div class="t lab" style="left:917.4px;top:101.81px;font-size:19.3px;letter-spacing:0.45px">ON</div>
<div class="t lab red" style="left:899.2px;top:145.20px;font-size:19.3px;letter-spacing:0.88px">Pure white&amp;Mixed white</div>
<div class="t lab" style="left:899.2px;top:190.31px;font-size:19.3px;letter-spacing:0.88px">RGB jump(dynamic)</div>
<div class="t lab" style="left:899.2px;top:230.01px;font-size:19.3px;letter-spacing:0.87px">seven color jump(dynamic)</div>
<div class="t lab" style="left:899.8px;top:271.51px;font-size:19.3px;letter-spacing:0.86px">RGB fade (dynamic)</div>
<div class="t lab" style="left:900.4px;top:314.20px;font-size:19.3px;letter-spacing:0.87px">seven color fade(dynamic)</div>
<div class="t lab" style="left:898.4px;top:351.81px;font-size:19.3px;letter-spacing:0.88px">seven color flash(dynamic)</div>
<div class="t lab" style="left:909.2px;top:444.61px;font-size:19.3px;letter-spacing:0.82px">seven color breath</div>
<div class="t lab" style="left:909.2px;top:468.01px;font-size:19.3px;letter-spacing:0.88px">(dynamic)</div>
<div class="t desc" style="left:300.5px;top:557.71px;font-size:15.2px;letter-spacing:0.84px">Voice function is on, and when the voice function is turned on,</div>
<div class="t desc" style="left:299.4px;top:576.31px;font-size:15.2px;letter-spacing:0.81px">the light source followsthe sound and the speed of the rhythm to change.</div>
<div class="t desc" style="left:301.6px;top:624.92px;font-size:15.2px;letter-spacing:0.84px">The voice function is off,and when the voice function is turned off,</div>
<div class="t desc" style="left:300.5px;top:644.92px;font-size:15.2px;letter-spacing:0.84px">the light source is a conventional change mode.</div>
<div class="t desc" style="left:301.6px;top:689.81px;font-size:15.2px;letter-spacing:0.80px">In normal mode:</div>
<div class="t desc" style="left:301.6px;top:709.81px;font-size:15.2px;letter-spacing:0.82px">The dynamic effect is to adjust the speed faster,the atatic effect is to</div>
<div class="t desc" style="left:300.5px;top:729.71px;font-size:15.2px;letter-spacing:0.79px">adjust the brightness to brighten</div>
<div class="t desc" style="left:301.6px;top:749.01px;font-size:15.2px;letter-spacing:0.80px">Voice mode:</div>
<div class="t desc" style="left:300.5px;top:768.51px;font-size:15.2px;letter-spacing:0.81px">the button is to adjust the voice sensor sensitivity,sensitivity</div>
<div class="t desc" style="left:301.6px;top:787.81px;font-size:15.2px;letter-spacing:0.78px">becomes high</div>
<div class="t desc" style="left:301.6px;top:831.81px;font-size:15.2px;letter-spacing:0.60px">In normal mode:</div>
<div class="t desc" style="left:301.6px;top:850.92px;font-size:15.2px;letter-spacing:0.79px">The dynamic effect is to slow down the adjustment,the static effect is to</div>
<div class="t desc" style="left:300.5px;top:869.81px;font-size:15.2px;letter-spacing:0.80px">adjust the brightness to darken</div>
<div class="t desc" style="left:301.6px;top:889.81px;font-size:15.2px;letter-spacing:0.80px">Voice mode:</div>
<div class="t desc" style="left:300.5px;top:909.61px;font-size:15.2px;letter-spacing:0.78px">the button is to adjust the voice sensor sensitivity</div>
<div class="t desc" style="left:300.5px;top:928.61px;font-size:15.2px;letter-spacing:0.80px">sensitivity becomes low</div>
<div class="t cap" style="left:79.5px;top:213.71px;font-size:19.9px;letter-spacing:-0.04px">Bedroom</div>
<div class="t cap" style="left:64.2px;top:510.21px;font-size:19.9px;letter-spacing:0.29px">Car Interior</div>
<div class="t cap" style="left:77.6px;top:800.60px;font-size:19.9px;letter-spacing:-0.03px">Swimming</div>
<div class="t cap" style="left:102.0px;top:824.32px;font-size:19.9px;letter-spacing:-0.24px">Pool</div>
<div class="t sm" style="left:1030.7px;top:890.81px;font-size:12.6px;letter-spacing:0.56px">No Battery</div>
<div class="t sm" style="left:985.6px;top:907.31px;font-size:12.6px;letter-spacing:0.77px">Only CR2025</div>
<div class="t sm" style="left:1083.5px;top:907.31px;font-size:12.6px;letter-spacing:0.75px">CR2032</div>
</body>
</html>
